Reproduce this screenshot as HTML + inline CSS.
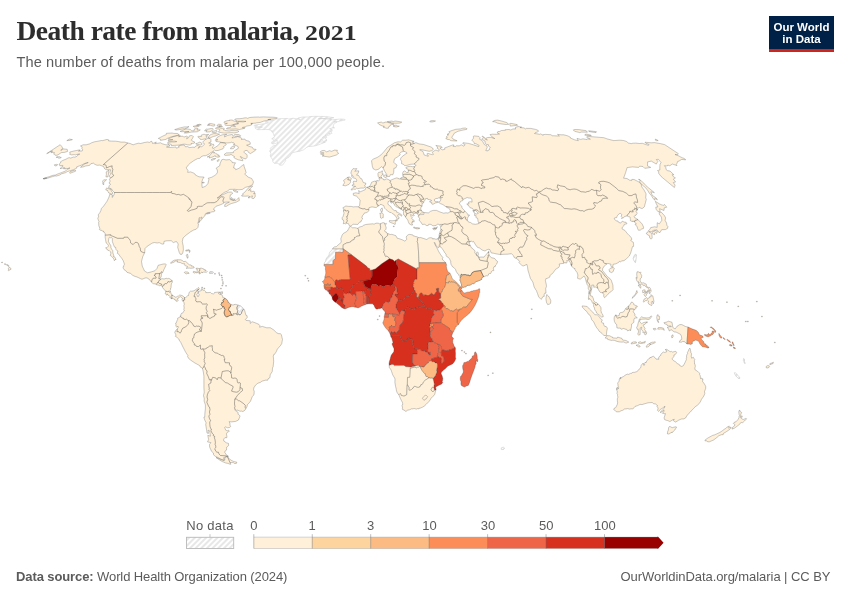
<!DOCTYPE html>
<html lang="en">
<head>
<meta charset="utf-8">
<title>Death rate from malaria, 2021</title>
<style>
html,body{margin:0;padding:0;background:#fff;}
body{width:850px;height:600px;position:relative;overflow:hidden;font-family:"Liberation Sans",Arial,sans-serif;}
#title{position:absolute;left:16.5px;top:13.1px;margin:0;font-family:"Liberation Serif","DejaVu Serif",serif;font-weight:bold;font-size:27.5px;line-height:36px;color:#2d2d2d;white-space:nowrap;letter-spacing:-0.5px;}
#yr{display:inline-block;font-size:20px;letter-spacing:0;transform:scaleX(1.29);margin-left:-0.5px;transform-origin:left bottom;}
#subtitle{position:absolute;left:16.4px;top:52.5px;margin:0;font-size:14.6px;line-height:18px;color:#5b5b5b;white-space:nowrap;letter-spacing:0.13px;}
#logo{position:absolute;left:769px;top:16px;width:65px;height:33px;background:#002147;border-bottom:3px solid #ce261e;color:#fff;font-weight:bold;font-size:11.5px;line-height:12px;text-align:center;}
#logo span{display:block;white-space:nowrap;}
#logo .l1{position:absolute;left:0;width:65px;top:4.8px;}
#logo .l2{position:absolute;left:0;width:65px;top:16.7px;}
#map{position:absolute;left:0;top:0;width:850px;height:600px;}
.lg{position:absolute;font-size:13px;line-height:14px;color:#5b5b5b;white-space:nowrap;top:518.6px;transform:translateX(-50%);}
#src{position:absolute;left:16px;top:569px;font-size:13px;line-height:15px;color:#5b5b5b;white-space:nowrap;letter-spacing:-0.1px;}
#src b{font-weight:bold;}
#lic{position:absolute;right:19.6px;top:569px;letter-spacing:-0.06px;font-size:13px;line-height:15px;color:#5b5b5b;white-space:nowrap;}
</style>
</head>
<body>
<h1 id="title">Death rate from malaria, <span id="yr">2021</span></h1>
<p id="subtitle">The number of deaths from malaria per 100,000 people.</p>
<div id="logo"><span class="l1">Our World</span><span class="l2">in Data</span></div>
<svg id="map" width="850" height="600" viewBox="0 0 850 600">
<defs>
<pattern id="hatch" patternUnits="userSpaceOnUse" width="4" height="4" patternTransform="rotate(45)">
<rect width="4" height="4" fill="#fff"/>
<line x1="2" y1="0" x2="2" y2="4" stroke="#e5e5e5" stroke-width="1.8"/>
</pattern>
</defs>
<g id="legend">
<rect x="186.5" y="537.3" width="47.2" height="11.2" fill="url(#hatch)" stroke="#b9b9b9" stroke-width="0.9"/>
<line x1="210" y1="534.2" x2="210" y2="537.1" stroke="#b9b9b9" stroke-width="0.8"/>
<rect x="253.80" y="537.1" width="58.50" height="11.4" fill="#fef0d9"/>
<rect x="312.25" y="537.1" width="58.50" height="11.4" fill="#fdd49e"/>
<rect x="370.70" y="537.1" width="58.50" height="11.4" fill="#fdbb84"/>
<rect x="429.15" y="537.1" width="58.50" height="11.4" fill="#fc8d59"/>
<rect x="487.60" y="537.1" width="58.50" height="11.4" fill="#ef6548"/>
<rect x="546.05" y="537.1" width="58.50" height="11.4" fill="#d7301f"/>
<path d="M604.50 537.1H657.65V536.3L663.55 542.8L657.65 549.3V548.5H604.50Z" fill="#990000"/>
<path d="M253.80 537.1H657.65M253.80 548.5H657.65" stroke="#8a8a8a" stroke-opacity="0.55" stroke-width="0.6" fill="none"/>
<path d="M253.80 534.2V548.5M312.25 534.2V548.5M370.70 534.2V548.5M429.15 534.2V548.5M487.60 534.2V548.5M546.05 534.2V548.5M604.50 534.2V548.5" stroke="#555" stroke-opacity="0.7" stroke-width="0.55" fill="none"/>
</g>
<defs><pattern id="hatch2" patternUnits="userSpaceOnUse" width="4" height="4" patternTransform="rotate(45)"><rect width="4" height="4" fill="#fff"/><line x1="2" y1="0" x2="2" y2="4" stroke="#e5e5e5" stroke-width="1.8"/></pattern></defs>
<g id="countries" stroke="#2e2e2e" stroke-opacity="0.5" stroke-width="0.5" stroke-linejoin="round">
<g id="land">
<path d="M438.2 238.6L438.7 237.7L439 236.4L439.2 234.4L439.5 233.7L440.1 231.6L440.9 229.7L440.5 227.6L440.9 226.6L440 225.4L440.7 224.4L439.4 224.6L437.5 224L436.2 225.5L432.9 225.8L431 224.4L428.7 224.3L428.3 225.4L426.8 225.7L424.6 224.3L422.2 224.4L420.7 221.8L419 220.3L419.8 218.3L418.3 217.1L418.3 215.7L420.4 214.6L423.7 214.5L424.3 212.5L428.4 212.9L430.7 211.2L433.1 210.4L436.5 210.4L440.5 212.2L443.7 213.2L446.1 212.8L448 213.1L450.2 211.7L450.3 210.6L449.5 208.8L448.1 207.9L446.9 207.6L446 206.8L442.9 204.6L440.3 203.6L438.3 202.1L439.7 201.7L441 199.6L439.7 198.6L442.5 197.5L442.3 197L440.6 197.4L439 197.6L437.8 198.4L435.9 198.5L434.3 199.5L434.7 201.1L435.8 201.7L437.9 201.6L437.6 202.5L435.5 202.9L432.9 204.4L431.7 203.9L431.9 202.7L429.5 201.9L429.8 201.4L431.7 200.6L431 200L427.7 199.3L427.4 198.4L425.5 198.7L425 200.1L423.6 202L423.8 202.7L422.9 203.2L422.2 203L422.1 206.1L421.1 207.2L420.6 209L421.5 210.5L421.8 211.5L423.8 212.3L423.5 213L421 213.1L420.2 213.9L418.6 215.3L417.7 214.1L417.7 213.6L416.4 213.5L415.3 213.2L412.8 213.9L414.4 215.4L413.4 215.8L412.2 215.8L410.9 214.4L410.6 215L411.2 216.6L412.4 217.8L411.6 218.4L412.9 219.6L414.1 220.3L414.2 221.8L412.2 221.1L412.9 222.4L411.6 222.7L412.6 225L411.2 225L409.3 223.9L408.3 221.8L407.8 220.1L406.9 218.9L405.7 217.4L405.5 216.7L405.1 216.5L405 215.9L403.8 215L403.5 213.8L403.5 212L403.7 211.2L403.3 210.8L402.9 210.6L402.2 209.8L401.2 209.3L399.2 208.3L397.9 207.4L395.9 206.6L394 204.7L394.5 204.5L393.4 203.4L393.3 202.6L392 202.2L391.4 203.3L390.7 202.4L390.7 201.5L391.2 201.2L389.6 200.9L388 201.8L388.1 203L387.9 203.8L388.7 205.1L390.7 206.4L391.9 208.5L394.4 210.6L396.1 210.6L396.6 211.2L396 211.7L398 212.6L399.6 213.4L401.5 214.7L401.8 215.2L401.5 216.2L400.2 215L398.3 214.5L397.5 216.2L399.1 217.2L399 218.5L398.1 218.7L397.1 220.9L396.2 221.1L396.2 220.3L396.5 218.9L397 218.4L396 216.9L395.3 215.6L394.4 215.2L393.7 214.1L392.3 213.6L391.3 212.6L389.8 212.4L388 211.3L386 209.6L384.5 208.1L383.7 205.5L382.7 205.2L381 204.4L380 204.7L378.9 205.9L378 206.1L376.2 207.6L372 206.9L369 207.7L368.9 209.3L368.9 210.8L366.9 212.5L364.2 213.1L364 213.9L362.7 215.4L361.9 217.5L362.7 219L361.5 220.1L361 221.8L359.4 222.3L357.9 224.4L353.1 224.3L351.7 225.3L350.8 226.2L349.8 226L349 225.1L348.4 223.6L346.4 223.2L345.5 223.9L344.4 223.5L343.3 223.8L343.7 221.8L343.5 220.2L342.6 219.9L342.1 219L342.3 217.3L343.2 216.3L343.4 215.3L343.9 213.7L343.9 212.6L343.5 211.7L343.5 210.8L343.7 209L342.8 207.8L345.9 206L348.4 206.4L351.2 206.4L353.4 206.9L355.1 206.7L358.5 206.8L359.6 205.3L360.1 200.2L357.9 197.5L356.5 196.2L353.4 195.2L353.2 193.4L355.8 192.8L359.2 193.5L358.6 190.6L360.5 191.7L365.2 189.7L365.8 187.6L367.5 187.1L369.1 186.6L370.1 185.9L371.7 182.2L374.3 181.2L376 181.3L376.3 180.8L378 180.6L378.3 181.2L379.6 179.9L379.1 179L379 177.6L378.1 176.2L377.9 173.7L378.2 173.1L378.7 172.3L380.3 172.2L381 171.5L382.4 170.8L382.5 172.1L381.9 172.9L382.2 173.5L383.3 173.9L382.9 174.8L382.3 174.6L381 176.3L381.6 177.6L381.7 178.5L383.7 179.1L383.8 180L385.7 179.5L386.7 178.8L389 179.8L390 180.6L391.3 179.9L394.2 178.7L396.5 177.9L398.5 178.3L398.7 178.9L400.6 178.9L400.9 177.8L403.4 177L402.8 175L402.6 173.1L403.3 171.6L404.9 170.8L406.7 172.6L408.2 172.5L408.3 170.7L408.2 169.2L406.3 168.7L405.9 167.3L408.1 166.6L410.4 166.3L412.5 166.7L414.4 166.6L416.2 165.3L414 164.1L410.7 164.3L407.7 165.2L404.7 165.7L403.5 164.4L401.5 163.6L401.6 161.3L400.4 159.2L401 157.8L402.4 156.3L405.9 153.8L407 153.3L406.6 152.4L404 151.3L401.1 152L399.7 153.5L400.2 155L397.7 156.8L394.5 158.8L393.7 162.2L395.2 163.8L397.1 165.1L395.8 167.9L393.9 168.4L393.7 172.5L392.8 174.8L390.5 174.6L389.6 176.5L387.4 176.6L386.6 174.3L384.8 171.5L383.1 168.1L381.7 166.6L378.2 169.4L375.7 170L373.1 168.7L372.3 166.2L371.5 160.7L373.1 159.2L377.7 157.2L381.1 154.8L384 151.6L387.6 147.2L390.2 145.6L394.4 142.8L397.9 141.8L400.6 141.9L402.7 140.2L405.7 140.2L408.6 139.8L414.1 141.4L412.2 142L414.4 143.3L415.9 142.6L419 143.9L423.7 144.5L431 147L432.6 148L433.3 149.5L431.8 150.7L429.1 151.3L420.9 149.6L419.7 149.9L423 151.5L423.4 152.6L424.2 155L426.6 155.7L428.2 156.3L428.1 155.1L426.8 154.2L427.6 153.3L432.3 154.7L433.6 154.2L431.9 152.5L435.2 150.2L436.8 150.4L438.7 151.2L439.2 149.6L437.2 148.3L437.6 146.9L435.8 145.5L440.8 146.2L442.3 147.5L440.2 147.8L440.7 149L442.4 149.8L444.8 149.3L444.7 147.9L447.8 146.8L452.8 144.9L454.1 145L453.1 146.4L455.3 146.6L456.2 145.8L459.3 145.8L461.3 144.8L463.9 146.2L465.1 144.7L462.7 143.4L463.1 142.7L468.4 143.4L471.1 144.1L478.7 146.6L479.1 145.4L476.7 144.3L476.4 143.8L474.3 143.6L474.2 142.5L472.3 140.8L471.8 140.2L473.5 138.2L473.3 136.3L474.2 135.9L478.8 136.4L480 137.6L479.7 139.3L481.2 140L482.7 141.5L484.3 144.5L487 145.9L487.2 147.4L485.8 150.6L488 150.9L488.2 150.1L489.7 149.5L489.5 148.4L490.3 147.3L488.5 146.1L488.3 144.6L486.4 144.4L485.2 143.2L485 141L481.6 139.3L483.5 137.8L482 136.3L482.8 136.3L484.5 137.4L485.4 139.5L487.4 139.9L485.6 138.4L487.6 137.5L490.9 137.4L494.8 138.6L492 136.9L490 134.6L492.4 134.2L496.3 134.3L499.5 134L497.2 132.9L497.8 131.6L499.5 131.5L501.5 130.5L505.3 130.3L505.2 129.7L509 129.5L510.8 130L513 128.9L515.8 129L515.2 128.1L515.6 127.3L518.2 126.5L521.6 127.1L520.1 127.6L523.9 127.9L525.6 128.9L526.3 128.4L530.8 128.4L535.5 129.4L537.7 130.1L538.7 131.2L537.7 131.8L535 132.9L534.5 133.5L536.8 133.8L539.7 134.3L540.7 133.9L543.1 135.3L543.1 134.7L545.3 134.4L550.8 134.7L552.3 135.7L559.4 136L557.5 134.4L561.3 134.8L563.8 134.8L567.8 135.9L570.3 137.2L570.5 138.1L574.6 139.8L578.3 140.7L577 138.4L580.8 139.4L582.9 138.8L586.9 139.5L587.3 138.9L590.4 139.2L586.5 137.2L587.4 136.3L603.9 137.7L607.1 138.9L613.7 140.6L619.8 140.2L623.5 140.5L626.3 141.4L628.4 143L631.3 143.6L632.9 143.2L635.8 143.1L639.6 143.5L642.4 143.3L648.2 145.3L649.2 144.6L645.8 143.2L645 142.2L651.2 142.8L654.5 142.6L660.9 143.7L664.8 144.7L678.3 153.6L677.5 154.7L675 154.5L678.3 155.7L682.1 157.7L683.8 158.3L685.3 159.3L685.7 159.9L681.7 159.4L679 161.1L677.7 161.4L677.1 163.1L676.3 164.5L677 165.6L672.3 164L669.8 165.8L667.9 165L667.3 166L664.4 165.7L665.7 167.2L666.2 169.6L667.4 170.6L670.1 171.1L673.8 174.7L672.2 174.7L673.5 176.8L675.4 177.9L673.4 179.1L675.6 182L673.3 182.6L675.1 185.1L674.4 187.5L672.1 185.7L667.8 182.1L661.2 176.6L658.6 173.2L658.7 171.7L657.5 170.6L659.8 170L659.8 167L660 164.5L661 162.6L658.4 159.3L656.4 159.5L657.8 161.4L656.3 164.1L651.3 161.1L647.6 161.9L647.5 165.9L650.7 167.4L647.3 168L644.7 168.3L642.9 166.5L639.6 166.2L638.6 167.4L632.5 166.9L627.1 167.6L625.7 172.4L623.6 178.2L627 178.5L629.3 180L631.6 180.6L631.8 179.4L634.1 179.5L639.3 182.2L641.2 184.4L641.8 186.9L644 189.9L646.1 193.9L645.7 197.6L646.3 199.4L645.5 202.4L644.7 205.4L644.3 206.9L642.4 208.4L641.1 208.4L639.1 207.2L637.4 209.1L637.6 209.9L636.3 210.7L636.1 211.5L637.3 213.4L636.5 214L636.4 214.4L636 215.2L634.8 215.6L634.2 216.3L634.7 217.5L634.6 217.7L635.7 218.2L637.5 219.3L640.8 222.4L642.2 224.1L643.6 227.1L643.4 228.5L641.7 229L640.4 230.1L638.5 230.3L637.7 228.9L637.2 226.9L635 224.2L636.4 223.8L633.9 221.5L632.6 221L632.6 221.5L632.1 221.7L631.8 221.3L631.1 221L630.3 220.6L630.4 219.5L630.7 219.1L630.3 218.7L630.1 217.3L629.8 216.9L628.4 216.6L627 215.9L624.4 216.6L623.5 217.8L621.5 218.5L622.1 217.3L621.1 216.3L621.9 214.6L620.1 213.2L618.7 214.2L617.2 215.9L616.7 217.6L614.7 217.8L614.1 219L616.1 220.7L618 221.1L618.6 222.3L620.7 223.1L622.2 221.2L624.6 222.2L626.1 222.3L627 223.7L624.3 224.4L623.9 225.8L622.3 227.1L622 228.9L624.9 230.4L626.8 232.9L629 235.3L631.2 237.4L631.9 239.3L630.7 240L631.7 241.4L633.3 242.2L633.6 244.3L633.6 246.4L632.5 246.6L631.7 249.5L630.7 252.9L629.3 256L626.7 258.5L624 260.7L621.5 260.9L620.4 262.1L619.4 261.3L618.4 262.6L615.5 263.9L613.1 264.3L612.8 267L611.6 267.2L610.7 265.3L611 264.3L607.9 263.4L606.9 263.9L604.2 266.1L602.7 268.6L602.5 270.4L604.7 273.1L607.3 276.5L609.6 278.2L611.3 280.3L612.9 285.1L613.1 289.7L611.4 291.4L608.9 293.1L607.2 295.3L604.5 297.7L603.5 296L604 294.3L602.2 292.8L600.3 292.4L599.2 291.1L597.8 288.3L595.6 287.1L593.7 287.2L593.8 285.1L591.8 285.1L591.9 288L591 291.8L590.4 294.2L590.7 296L592.2 296.1L593.3 298.5L593.8 300.8L595.2 302.3L596.6 302.6L597.9 303.9L598.4 304.2L599.8 305.8L600.9 307.5L601.1 309.3L600.9 310.4L601.2 311.4L601.4 312.9L602.2 313.6L603.2 315.9L603.2 316.8L601.5 317L599.3 315.1L596.5 313L596.2 311.7L594.8 309.9L594.4 307.7L593.5 306.3L593.7 304.4L593.1 303.3L592.1 302.3L591.7 301L590.4 299.5L589.2 298.3L588.9 299.8L588.4 298.4L588.5 296.8L589 294.2L588.7 292.3L589.2 290.3L588.3 288.8L588.2 285.9L587.1 284.5L586.1 281.4L585.3 278.1L584 275.9L582.7 277.3L580.3 279.1L579 278.9L577.5 278.3L577.9 275L577.1 272.6L574.9 269.6L575 268.6L573.7 268.3L571.7 266.2L570.9 264.8L570.6 263.5L570 262.2L568.8 260.7L566.7 260.6L567.1 261.7L566.6 263.1L565.5 262.6L565.3 263.1L564.6 262.8L563.7 262.5L563.5 263.5L562 263.5L559.2 264L559.6 266L558.6 267.5L555.6 269.3L553.4 272.4L551.9 274L549.8 275.7L550 276.9L548.9 277.6L546.9 278.5L545.9 278.6L545.4 280.6L546.2 284L546.5 286.2L545.7 288.7L546 293.1L544.8 293.2L543.9 295.2L544.6 296.1L542.6 296.9L541.9 298.6L541 299.4L538.7 296.9L537.4 293.3L536.4 290.6L535.5 289.4L534.1 286.9L533.3 283.6L532.8 282L530.4 278.4L528.9 273.3L527.9 270L527.5 266.8L526.8 264.4L523.7 265.9L522.1 265.6L518.8 262.5L519.7 261.5L519 260.5L516.1 258.3L514.3 257.6L513.5 255.7L511.5 253.7L507.4 254.2L503.8 254.3L500.6 254.6L496.3 253.9L493.8 253.3L491.2 252.9L489.9 249.7L488.8 249.3L487.1 249.7L485 251L482.2 250.1L479.7 248.1L477.4 247.3L475.6 244.9L473.5 241.4L472.4 241.8L470.9 240.9L470.2 242L468.8 241.8L469.5 243L469.3 243.6L470.3 245.6L471.4 247.8L472.6 248.4L473.1 249.3L474.7 250.4L475 251.5L474.8 252.4L475.2 253.3L475.9 254L476.3 254.8L476.7 255.5L476.4 253.6L476.8 252.2L477.4 251.9L478.2 252.8L478.4 254.3L478 255.8L478.6 256.8L479 256.7L479.1 257.4L480.8 257L482.7 257.1L484.1 257.1L485.4 255.4L486.9 253.7L488.2 252.1L488.7 251.2L489 251.4L488.9 252.5L488.7 253L489.2 255.1L490.4 256.8L491.8 257.8L493.5 258.1L494.8 258.6L496 260.1L496.7 261L497.5 261.3L497.6 261.9L496.9 263.4L496.6 264.2L495.7 265L495.1 266.8L494 266.7L493.6 267.3L493.4 268.6L493.8 270.4L493.6 270.7L492.5 270.7L491.2 271.7L491.1 272.9L490.6 273.5L489.2 273.5L488.4 274.1L488.4 275.2L487.4 275.9L486.1 275.7L484.7 276.5L483.6 276.7L482 277.4L481.7 278.5L481.7 279.4L479.4 280.5L475.9 281.7L473.9 283.6L472.9 283.7L472.2 283.6L470.9 284.7L469.5 285.2L467.6 285.3L467 285.5L466.6 286.1L465.9 286.3L465.6 287L464.5 286.9L463.8 287.3L462.2 287.2L461.5 285.6L461.5 284.2L461.1 283.4L460.6 281.5L459.9 280.4L460.3 280.3L460 279.1L460.3 278.6L460.1 277.5L459.8 276.4L459 275.6L458.8 274.5L457.5 273.6L456.2 271.4L455.4 269.3L453.8 267.5L452.7 267L451.1 264.5L450.7 262.7L450.7 261.2L449.2 258.3L448.1 257.3L446.8 256.7L446 255.2L446.1 254.6L445.4 253.3L444.7 252.7L443.6 250.7L442.1 248.6L440.8 246.9L439.7 246.9L439.9 245.4L440 244.5L440.1 243.5L440 243.1ZM60.2 144.7L61.7 146.4L62.9 148.6L60.6 150L61 150.5L63 148.9L67.2 149.3L67.6 151.4L64.4 152.4L61.3 152.6L58.1 154.8L56.7 155.3L55.2 155.3L54.9 154.5L53.5 153.8L54.6 152.8L53.3 152.4L50.9 152.7L51.1 151.9L52.7 151.1L49.9 151.6L49.1 152.7L46.7 153.6ZM184.5 297.5L183.7 296.8L183 296L182 295.6L180.8 295.2L179.6 295.1L178.7 295.9L177.3 296.4L176.3 297L175.1 297.2L174.6 296.6L173.5 296.1L172.7 295.2L171.8 295.4L170.9 293L170.4 291.6L170 290.5L170.5 289.8L170.7 288L171.1 287.7L171.1 286.6L171.1 285.9L171.3 284.7L171.4 283.6L172.2 282.8L172 281.8L172.4 281L171.9 280.3L171.1 279.9L169.9 278.8L168.5 278.4L167.4 278.7L166.9 278.5L166.2 278.3L164.1 279L162.4 278.7L161.8 278.7L161 279.1L160.4 278.7L159.5 278.7L161.1 277L161.4 275.7L161.3 275.4L161.5 274.1L162.1 272.2L161.7 271.8L162.7 272.5L164 269.3L165.8 265.7L166.1 264.4L165.6 263.9L163.2 264L158.1 265.3L157.1 268.3L154.8 270.8L151.5 271.8L147.6 272.8L144.5 271L143.9 269.7L142.3 266.2L141.5 261.5L142.7 256.8L144.7 252.6L145 248.6L147.3 246.2L152.3 243.1L154.3 242.5L157.2 243L159.2 242.6L162.1 244.1L163.8 244L164 241.4L166.7 240.8L171.2 240.7L173.3 242.6L176.1 241.5L176.9 241.9L178.2 244.1L177.7 247.3L178.6 250.4L179.3 252.6L180.2 254.3L182 254.3L182.8 252.7L183.4 249.9L183.2 245.8L182.3 241.7L183 238L186 235.2L189.4 232.7L190.7 231.7L193.7 230L196.2 229.2L198 227.3L198.5 223.8L197.8 223.5L198.6 220.9L199.1 217.8L200.2 217.5L198.8 222.9L199.8 221L200.6 220.8L201.5 219.8L201.8 218.9L201.4 218.4L201.4 217L202.3 217.8L202.3 218.4L204.4 216.4L205.5 214.6L204.8 214.5L205.7 213.7L206.9 214L210.1 213.3L209.7 212.8L206.4 213.3L208.4 212.5L210.6 212.3L212.3 211.8L213.3 211.8L214.8 211.1L214.8 210.1L213.6 209.6L214.1 208.3L216.2 206.2L218.7 205.4L221.1 204.5L223.8 203.2L223.7 202.4L226.1 202.1L229.4 202L225.1 204.1L224.5 206.3L226.1 206.5L229 204.6L231.3 203.6L236.4 202.1L239.4 200.4L238.8 197.6L235.9 200.5L233.2 200.3L230.1 199.6L230 197.6L230.3 194.9L231.1 194.6L232.8 193.2L231.3 192L228.3 192.2L223.6 194.3L220.2 195.7L217 198.1L218.9 197.6L221.1 194.7L224.4 192.4L227.3 191.2L229.6 189.4L234.8 189.3L238.9 189.8L242.4 189.4L245.6 187.3L249.2 186.4L252.7 184.6L253.5 181.8L253 180.9L251.6 178.4L247.8 177L246.7 175.6L244.7 174.2L246.1 172.7L245.3 169.8L244.2 166.7L243.8 164.5L242 165.7L239 168.3L235.7 169.7L235 168.2L233.5 167.8L234.4 164.8L235.5 162.8L232.3 162.6L232.2 161.7L229.5 159.6L226 159.9L223.2 159.3L221.7 159.8L220.1 163.5L219.7 165.7L216.1 168.2L217.3 170L217.5 172.1L216.8 173.7L214.9 175.4L211.8 177.2L208.2 178.3L208.9 179.6L207.9 183.6L205.7 186.2L203.7 187L202.2 187.5L201.9 184.6L201.9 181.8L202.6 179.3L204.1 177.1L199 176.8L195.5 175.1L194.9 173.9L193.5 173L190.6 171.9L187.7 172.4L188 170.5L186.2 167.9L188.2 165.1L190.2 163.2L194 160.5L197.6 158.6L199.9 158.3L201.1 156.8L203.2 155.8L205.8 155.7L209 154.1L210.2 153.1L213.2 151.2L214.5 150L215.8 150.7L218.5 150.4L222.9 148.8L223.9 147.7L223.5 146.5L225.6 145.3L226.3 144.2L224.9 143.1L222.6 142.8L220.4 142.6L218.5 145.1L215.8 147L212.9 148.6L212.3 147.1L214.1 145.4L213.2 144L209.6 145.8L211.4 143.5L208.6 143L211 142L210.9 139.5L210.1 138.6L208.2 138.2L204.9 139.8L202.6 142.2L203.8 143.1L204.4 144.4L201.8 146.7L200.5 146.6L198 148.4L199.7 146.3L197.8 145.5L195.9 145.9L194.9 147.3L192.5 147.2L189.6 147.6L187.4 146.6L185.4 146.8L184.8 145.6L183.9 145L182.3 145.2L180.2 145.4L178.4 146.1L179.3 147.1L176.4 148.2L175.8 146.9L174 147.2L169.1 147.5L166.5 147L170 145.9L168.8 144.8L167 144.9L165.1 144.6L162 143.7L160.5 142.8L157.3 143.3L154.8 143.7L156.4 142L152.6 143.5L152 141.6L151.1 141.3L149.5 142.4L147.6 142L144.3 142.5L140.7 143.5L138.5 143.2L135.7 143.9L133.1 144.8L130.2 143.5L127.8 143L124.7 142.1L121.1 142.1L118.1 141.5L115.7 141.2L111.7 141.1L108.6 140.9L108.8 139.9L107 139.4L102.7 140.6L101.5 140.5L96.9 141.4L94.9 141.7L91.7 142.7L89.8 143.8L86.2 144.8L83.1 144.8L80.5 146L81.8 146.7L82.1 147.7L81.8 148.8L82.7 149.6L82.2 151L78.5 151.1L80.2 150L78.8 150L73.4 151.1L69.7 152.1L70.1 153.4L69.6 154.3L71.5 154.9L74.3 154.6L75 155.1L76.2 154.6L78.7 154.1L79.8 154.1L77.4 155L77.8 155.4L76.8 156.4L74.6 157.2L73.5 157L70.6 158.1L69.9 157.7L68.2 157.9L66.1 159.1L62.9 160.4L60.5 161.8L60.7 162.8L59.1 164.1L59.6 164.7L59.8 165.8L62.8 165.4L63 166.2L61.6 167.1L60.1 168.5L61.2 168.5L64.2 167.6L63.5 168.8L65 167.9L64.8 169.1L66.8 168.3L67 168.7L70 167.9L67.4 169.4L65.1 171.2L62.7 172.1L61.8 172.5L57.6 174L55.5 175L52.9 175.3L49.4 176.6L46.7 177.4L43.3 178.6L43.2 179L47.3 178.3L49.7 177.5L52.6 176.6L55.1 175.9L56.2 176.1L59.6 175.1L61.4 173.9L65.7 172.6L67.3 171.6L70 170.8L73.2 169.8L76.8 168.1L76.7 166.9L81.3 165.2L84.3 163.6L88.1 162.3L88 162.9L85.2 163.6L81.8 166L80.5 167.4L83.1 166.9L85.6 166L88.3 165.6L89.5 165.4L90.9 163.7L93.5 163.2L94.6 164.2L97 165.3L99.8 165.1L102.1 166L103.4 166.4L104.8 169L106.3 169.7L109.2 169.7L110.9 169.9L109.8 172.2L110.5 174.1L109.1 176.3L110.1 177.1L110.4 178L109.4 179.3L110.2 181.1L109 183.1L110.6 184.1L109.2 185.7L108.6 187.9L111.5 188.9L112.1 190.1L114.4 192.5L114.7 192.5L114 194.6L113 196.7L112.1 197.4L112.5 195L110.1 194.1L109.6 194.6L109.4 195.8L108.6 198L106.9 201.4L105.3 203.7L103.6 206.1L101.4 208.5L100.9 210.5L99.8 212.7L98.2 214.9L98.6 216.3L97.8 218.4L98.5 220.6L99 221.5L98.6 222.1L98.8 225.7L99.8 228.3L99.5 229.7L99.9 230.1L101.8 230.4L102.3 231.1L103.5 231.2L103.4 232L104.4 232.3L105.2 233.8L105.1 235.1L105.2 237.5L105.5 239.6L105.8 241.3L106.1 242.9L107.2 243.7L108.4 245.5L107.9 246.7L106.9 247.7L105.7 247.7L106.7 249.3L107.9 249.9L108.3 250.6L108.7 250.2L109.9 251.4L110.8 252.2L110.8 253.6L110.3 255.5L111.3 256.2L112.7 257.5L113.9 259L114.2 260.5L114.6 260.5L115.8 259.1L115.8 259.6L115.9 259.1L114.6 256.8L113.5 256.7L113.7 255.3L113.3 254.1L112.9 252.9L112.7 250.5L111.7 249.2L110.9 247.6L110.9 245.9L110.5 245L109.5 243.6L108.4 241.4L108.9 238.1L109.6 237.1L110.6 237.8L111.4 237.7L112.6 238.7L112.3 239.7L112.4 241.7L113.1 243.7L113.9 245.8L114.6 247.2L115.7 247.4L115.8 249.2L116.8 250.5L117.9 251.1L117.3 253.3L119 254.4L119.8 256L121.6 258.1L123.2 260.7L123.7 262L124.4 264.2L124.2 265.1L123.6 265.8L123.7 266.5L123 266.8L123.2 268.1L124.1 269.7L126.3 271.2L127.1 272.4L130.5 273.4L132.7 275.3L135.1 276.5L136.8 276.9L140.4 278.6L142 279.3L145.1 278L147 277.9L149.3 279.4L151.5 282.2L152.7 283.3L153.7 283.8L155.1 283.8L156.2 284.3L156.8 284.9L158.1 285L159.8 285.8L161.4 285.2L162.1 285.4L162.4 286.3L161.9 286.1L162.6 287.6L164 289.3L165.7 291.2L165.7 292.1L165.3 293.7L165.6 294.2L166.8 295.2L167.2 293.8L167.9 295.1L169.5 295.9L170.1 296.5L170.2 297.1L169.9 297.6L170.3 298.1L171.2 297.7L171.5 298.7L171.8 299.1L171.9 298.5L172.9 298.5L173.5 298.8L174.4 299L174.8 300L175.6 300.2L175.9 299.8L176.2 301.3L177.3 301.2L178.3 300.5L177.3 299.1L177.5 298.5L178 298.4L179 297.8L179.5 296.9L180.5 296.7L181.6 297.4L182 298.3L182.6 298.5L182 299.2L182.4 300.6L183.1 301.3L183.5 300L184.2 300.2L184.7 299.4L184.2 297.9ZM184.5 297.5L185.7 297.6L187.5 295.8L188.5 295.5L188.6 294.7L189.1 292.4L190.5 291.2L191.9 291.2L194 290.8L195.8 289.5L196.8 288.9L198 287.7L198.8 287.8L199.3 288.5L198.8 289.4L198.7 290L197.3 290.3L198 291.5L197.9 292.9L196.8 294.4L197.6 296.5L198.6 296.3L199.2 294.4L198.5 293.5L198.5 291.5L201.4 290.5L201.2 289.2L202.1 288.4L202.8 290.2L204.4 290.3L205.8 291.7L205.8 292.6L207.9 292.6L210.4 292.4L211.6 293.5L213.4 293.9L214.7 293L214.7 292.4L217.6 292.2L220.4 292.2L218.4 293L219.1 294.2L220.9 294.4L222.6 295.7L222.9 297.8L224.1 297.7L225 298.3L226.5 299.3L227.8 301L227.9 302.3L228.7 302.4L229.9 303.7L230.8 304.6L233.5 305.1L233.8 304.6L235.7 304.4L238.1 305.1L238.9 305.4L240.6 306.1L243 308.3L243.3 309.3L244.1 309.2L244.7 310.7L245.9 315.2L247.1 315.7L247.2 317.5L245.4 319.6L246.1 320.4L250.2 320.8L250.3 323.4L252.1 321.7L255 322.7L258.8 324.3L260 325.8L259.6 327.2L262.3 326.4L266.8 327.8L270.2 327.7L273.7 329.9L276.7 332.8L278.5 333.6L280.4 333.7L281.3 334.5L282.1 337.8L282.5 339.4L281.7 343.7L280.6 345.4L277.4 349.1L276.1 352L274.5 354.3L273.9 354.3L273.3 356.2L273.7 361.2L273.3 365.2L273.1 366.9L272.5 367.9L272.3 371.4L270.2 374.8L270 377.6L268.2 378.7L267.8 380.2L265.3 380.2L261.9 381.2L260.4 382.4L257.9 383.2L255.4 385.3L253.8 387.9L253.6 389.8L254.2 391.2L254.1 393.9L253.7 395.1L252.3 396.6L250.5 401.2L248.8 403.3L247.5 404.5L246.9 407L245.8 408.5L245.1 410.1L242.9 411.6L241.2 411L240.1 411.3L237.8 410.2L236.4 410.3L234.8 408.8L234.9 410.2L238.1 412.4L238.1 414.2L239.7 415.4L239.9 416.6L238.5 420L235.7 421.4L231.5 421.9L229.1 421.7L229.9 423.2L230 425.2L230.7 426.5L229.7 427.4L227.6 427.8L225.3 426.8L224.7 427.5L225.7 430.1L227.4 430.8L228.3 430L229.3 431.3L227.6 432.1L226.4 433.8L226.9 436.4L226.8 437.7L224.9 437.7L223.7 439.1L223.8 441L226.4 442.8L228.5 443.4L228.6 445.6L226.7 447.1L226.5 450.1L225 451.1L224.7 452.2L226.3 454.8L228.3 456.3L226.1 456.7L223.5 457.7L224.3 460L223.5 460.1L220.9 459.2L217.9 457.5L214.8 456.1L213.5 454.5L213.4 453L211.6 451.4L209.6 447L209.5 444.6L210.9 442.6L207.5 441.9L208.6 439.6L207.8 435.3L210.4 436.2L209.7 430.9L208.1 430.2L208.5 433.4L207 433.1L206.5 429.4L205.7 424.6L206.1 422.8L204.8 420.2L203.8 417.3L204.7 417.2L204.9 413L205.4 408.8L205.4 404.9L204.1 401L204.3 398.9L203.5 395.6L204.2 392.5L203.9 387.4L203.9 382L203.9 376.1L203.3 371.9L202.4 368.2L200 366.7L199.7 365.6L194.9 363L190.6 360.1L188.7 358.5L187.5 356.3L187.9 355.6L185.6 352.1L183.1 347.3L180.6 342.1L179.6 340.9L178.8 339L176.9 337.3L175.3 336.3L176 335.1L174.8 332.6L175.4 330.8L177.2 329.1L178.4 327.2L177.8 326L177 327.2L175.6 326.1L176.1 325.3L175.6 323L176.4 322.6L176.9 320.9L177.7 319.3L177.6 318.2L178.8 317.6L180.4 316.6L180.1 315.8L181 315.6L180.9 314.3L181.5 313.3L182.6 313.1L183.6 311.5L184.5 310.1L183.7 309.5L184.2 308L183.8 305.6L184.3 304.9L184 302.7L183.1 301.3L183.5 300L184.2 300.2L184.7 299.4L184.2 297.9ZM356.9 168.6L354.8 171.3L356.7 170.9L358.8 170.9L358.3 172.9L356.5 175.1L358.5 175.3L360.4 178.4L361.7 178.8L362.9 181.7L363.4 182.6L365.8 183.1L365.6 184.7L364.6 185.4L365.4 186.8L363.6 188.1L360.9 188.1L357.5 188.7L356.6 188.2L355.3 189.4L353.4 189.1L352 190.1L350.9 189.6L353.9 187L355.7 186.4L352.6 186L352.1 185L354.2 184.2L353.1 182.9L353.6 181.2L356.5 181.5L356.8 180L355.5 178.4L353.2 178L352.7 177.4L353.4 176.2L352.8 175.6L351.7 176.7L351.7 174.4L350.8 173.1L351.6 170.6L353.1 168.6L354.6 168.8ZM350.4 180.3L350.7 182.1L349.1 184.3L345.6 185.8L342.8 185.4L344.5 182.8L343.6 180.3L346.4 178.3L347.9 177.2L349.5 177.1L351.5 178.6ZM337.4 150.3L336.9 151.7L338.7 153.3L336.2 155.1L330.9 156.7L329.3 157.1L327 156.7L322.1 156L324.1 155L320.4 153.9L323.6 153.4L323.7 152.7L320.1 152.2L321.6 150.7L324.3 150.4L326.7 151.9L329.5 150.7L331.6 151.3L334.6 150.1ZM384.3 122.8L384.8 122.1L386.9 122.1L388.8 122.7L394 124.1L390.5 124.9L390 126.2L388.8 126.6L388.4 128.2L386.6 128.3L383.1 127.1L384.4 126.4L382 125.9L378.9 124.3L377.6 122.8L381.4 122.1L382.3 122.8ZM399.3 126.2L396.2 127L393.4 126.5L394.3 126L393.3 125.4L396.2 125.1L397 125.8ZM401.8 122.1L400 123.1L395.9 123.3L391.5 123L391.1 122.5L389 122.4L387.3 121.6L391.6 121.1L393.7 121.5L395 121L398.8 121.5ZM445.8 138.1L447.2 137.6L446.5 136.5L448.7 134.7L447.1 134.4L449.8 132.6L448.9 131.7L451.7 130.6L455.8 129.3L460.6 128.9L462.7 128.2L465.4 128L467.1 128.8L466.6 129.4L461.9 130.3L457.9 131.3L454.3 133.2L453.1 135.3L451.8 137.3L453.1 139.1L457.1 140.8L456.3 141L450.8 140.7L449.8 139.8L446.6 139.2ZM508.7 124.3L505.8 124.5L501 123.9L497.7 123.2L495 121.9L492.6 121.6L494.8 120.4L497.4 120.1L501.2 120.9L506.8 122.6ZM511.9 123.5L517.1 124.6L517.7 125.3L510.3 126.1L509.7 123.6L510.6 123.4ZM574.7 129.5L578.9 129.6L586.2 130.7L587.4 132.2L581.5 132.1L579.7 132.6L574.6 131.3L573.3 129.9ZM591.7 131.1L596.5 131.7L596 132.5L593.2 132.3L589.1 131.5L588.4 130.8ZM584.8 135.2L585.1 134.4L586.8 134.2L590.3 135L591.3 135.5L588.9 135.5L585.3 135.3ZM658.2 140.6L656.5 140.7L655.1 140L655.6 139.1ZM69.4 139.1L72.4 139.6L71.8 139.9L69.2 140.5L66.8 140.6ZM429.7 121.8L432 122L433.9 121.6L435.5 121L433.2 120.6L430.5 120.8ZM641 180.7L643.8 183.1L645.9 185.6L648.8 188.1L654.4 192.6L650.8 191.8L652.3 195.4L656.2 198L657.4 199.8L654.8 198.3L654.8 200.3L652.9 198.1L651.4 195.6L649.1 192.9L648.1 191L645.5 187.6L642.3 185.1L639.5 181.7L640.3 180.6L638.5 179.4L639 179.1ZM666.6 223.1L666.8 225.2L667.9 226.5L667.6 228.3L665.4 229.6L661.7 229.7L659.9 232.7L658 231.7L657 229.8L653.5 230.3L651.5 231.6L648.9 231.6L651.9 233.5L652.2 238L651.2 239.1L649.8 238.1L649.4 235.7L647.7 235L646.1 233.2L647.8 232.4L648.3 230.7L649.9 229.4L650.7 227.6L654.6 226.8L657.2 227.3L657.2 222.7L659.3 223.9L661.1 221.3L661.8 220.3L661.4 217.1L659.3 214.2L659.2 212.6L661.2 212.1L664.5 215.7L665.6 217.8L665.1 220.4ZM654.7 230.4L656.6 230.9L657.3 231.8L656.7 233.4L655.4 232.6L654.6 233.2L654.6 234.7L652.9 234L652.4 232.7L652.9 231.2L654.3 231.5ZM661.8 204.9L663.6 205.4L664.4 204.4L666.8 207.2L664.2 207.9L664 210.5L659.6 208.7L660.2 211.6L657.9 211.6L656 209.1L655.8 207.1L657.9 206.9L656.1 203.4L655.3 201.3L659.6 204ZM613.3 271.4L611.6 272.6L609.6 271.8L609.1 269.6L610.1 268.4L612.4 267.7L613.7 267.7L614.4 268.7L613.6 269.9ZM550.8 300.5L550.6 303.3L549.7 304L547.7 304.6L546.5 302.5L545.9 298.8L546.7 294.5L548.4 296L549.6 297.8ZM638.4 271.8L639.9 272.6L640.5 271.9L640.8 272.6L640.6 273.6L641.7 275.5L641.5 277.7L640.3 278.6L640.2 280.7L641 282.7L642.3 283L643.2 282.7L646.3 284.2L646.3 285.6L647.1 286.2L647 287.4L645 286.1L644 284.8L643.5 285.7L641.9 284.2L639.9 284.5L638.7 284L638.6 282.9L639.2 282.2L638.5 281.6L638.3 282.6L637 281.1L636.5 279.9L636 277.4L637.1 278.3L636.7 274.2L637 271.8ZM653.3 298.2L653.7 299.9L653.9 301.4L653.3 303.8L652.3 301.1L651.3 302.5L652.1 304.4L651.6 305.6L648.8 304.1L648 302.2L648.6 301L647.1 299.7L646.4 300.8L645.3 300.7L643.7 302.2L643.3 301.4L644 299.2L645.4 298.5L646.6 297.5L647.5 298.7L649.2 298L649.5 296.8L651.1 296.7L650.8 294.7L652.8 295.9L653.1 297.2ZM636.8 290.5L637.5 292.6L636.1 294.1L635 295.8L632.1 298.3L633.1 296.5L634.7 294.9L635.9 293.1ZM650.4 288.4L651.3 291.3L649.5 290.6L649.6 291.5L650.4 293.1L649.3 293.7L649 291.9L648.3 291.7L647.8 290.1L649.2 290.3L649 289.4L647.4 287.4L649.6 287.4ZM647.4 293.3L646.6 294.2L646.1 295.8L645.4 296.6L643.9 294.8L644.3 294.1L644.8 293.4L644.9 291.8L646.1 291.6L645.9 293.4L647.4 290.8ZM642.8 292.9L642.6 291.7L642.6 290.3L643.6 289.9L645.1 289.9L645.1 291L644.2 292.1ZM641 286L640.6 288.3L639.5 287L638.1 285L640.1 285.1ZM634.4 309.4L633.2 311.8L635 314.2L634.6 315.4L637.3 317.8L634.5 318.2L633.8 319.9L633.9 322.3L631.6 324.1L631.5 326.7L630.5 330.7L630.2 329.8L627.5 330.9L626.6 329.3L625 329.2L623.9 328.4L621.1 329.3L620.3 328L618.8 328.2L616.9 327.9L616.6 324.4L615.5 323.6L614.4 321.4L614.1 319.1L614.3 316.7L615.7 314.9L617.4 315.9L619.2 315.4L619.6 313.1L620.5 312.6L623.3 312.1L624.8 310L625.9 308.4L626.8 307.4L628.7 306L630.3 304.1L631.4 302.1L632.3 302.1L633.6 303.4L633.7 304.5L635.3 305.3L637.3 306.1L637.1 307.1L635.6 307.2L636.1 308.5ZM582.2 305.9L583.7 306L587.2 306.5L589.4 309L591.3 310.8L592.6 311.9L594.8 314.7L597.2 314.8L599.2 316.5L600.5 318.7L602.3 319.9L601.3 322.1L602.7 323L603.5 323L603.8 324.9L604.6 326.3L606.3 326.6L607.4 328.2L606.7 331.5L606.4 335.5L603.8 335.5L602 333.4L599.1 331.2L598.2 329.6L596.5 327.5L595.4 325.6L593.7 321.9L591.7 319.7L591 317.5L590.1 315.4L588 313.8L586.8 311.5L585 310.1L582.4 307.2ZM605.2 338.1L606.9 335.6L609.7 335.8L611.5 336.8L612.5 337L612.7 337.9L617.1 338.2L617.7 337.1L621.9 338.4L622.6 340L626.1 340.5L628.8 342.1L626.1 343.1L623.6 342L621.5 342.1L619.2 341.9L617 341.4L614.4 340.4L612.8 340.2L611.8 340.5L607.6 339.4L607.3 338.3ZM651.7 316.5L649.8 319.1L648.1 319.6L645.9 319.1L642 319.2L640 319.6L639.7 321.6L641.7 323.9L643 322.7L647.3 321.8L647.1 323L646.1 322.6L645.1 324.2L643 325.2L645.1 328.5L644.6 329.4L646.6 332.4L646.4 334.2L645.2 334.9L644.3 334L645.6 331.9L643.2 332.9L642.7 332.1L643.1 331.2L641.5 329.6L641.7 327.1L640.2 327.9L640.2 330.9L640.1 334.7L638.6 335L637.7 334.3L638.5 331.9L638.2 329.3L637.3 329.3L636.6 327.5L637.6 325.8L638 323.7L639.2 319.8L639.7 318.7L641.6 316.8L643.4 317.6L646.3 317.9L649 317.8L651.3 315.9ZM650 343.4L650.3 342.8L652.3 342.2L653.9 342.2L654.7 341.8L655.5 342.2L654.6 342.9L652.1 344L650.2 344.7L648.5 346.7L646.5 347.3L646.2 347L646.5 346.1L647.6 344.5ZM633.9 341.4L634.7 342.1L636.1 341.8L636.6 343L633.9 343.5L632.3 343.8L631 343.8L631.9 342.3L633.2 342.3ZM645.4 341.3L645 342.8L641.4 343.5L638.4 343.2L638.5 342.3L640.3 341.7L641.7 342.5L643.3 342.3ZM636 345.2L638.2 344.7L639.4 345.5L640.1 346.3L639.9 347L638.9 347ZM657.8 314.5L658 315.9L659.4 316.2L659.6 317.2L659.5 319.5L658.3 319.3L658 320.9L658.9 322.2L658.3 322.6L657.4 320.9L656.7 317.6L657.1 315.5ZM663.6 328.3L664.3 330.3L662.5 329.2L660.6 329L659.2 329.2L657.6 329.1L658.3 327.6L661.1 327.5ZM656.1 329.2L655.2 330.1L653.6 329.6L653.3 328.5L655.6 328.4ZM672.2 323.2L672.8 327.4L675.1 329L677.1 326.2L679.8 324.6L681.9 324.6L683.8 325.6L685.5 326.5L688 327L687.5 335.5L686.9 344L685 341.9L682.7 341.4L682.1 342.1L679.2 342.2L680.3 340.1L681.8 339.3L681.5 336.5L680.5 334.3L676.1 332.1L674.2 331.9L670.9 329.5L670.2 330.7L669.3 330.9L668.8 330L668.8 328.9L667.1 327.6L669.7 326.6L671.3 326.7L671.1 326L667.7 326L666.9 324.4L664.8 323.9L663.9 322.7L667 322L668.2 321.2L671.9 322.2ZM768.9 365.5L769.5 366.3L768.8 367.6L767.2 368L766.1 367.7L766.2 366.5L767.2 365.6L768.2 365.9ZM771.5 364.1L769.9 364.7L769.8 363.7L771.1 363.1L771.8 363L773.4 362.2L773.1 363.5ZM738.8 424.9L737 426.3L734.6 428.1L732.1 429.1L732.3 428.4L731.7 428L734.5 425.9L734.9 424.5L733.3 423.4L734 422.5L736.2 421.6L737.9 419.6L738.9 417.9L739.2 416.2L739.5 415.7L739.1 414.6L738.8 412.3L739 410.5L739.9 410.3L740.3 411.7L741.6 412.4L740.7 414.7L740.6 417.5L741.8 415.7L742.3 416.4L741.3 418.4L742.5 419.2L743.8 419.4L745.7 418.4L746.6 418.7L744.5 421L742.8 422.6L741.2 422.5L740.1 423.3L739.5 424.4ZM716.7 433.9L719.5 432.6L721.8 431.2L724.2 429.3L725.6 428.6L726.9 427.2L729.3 426L729 427.1L728.6 428.2L730.9 427.1L730.7 428.2L729.9 429.3L728.2 430.5L725.3 432.4L723.4 433.4L723.2 434.7L721.5 434.7L718.9 435.7L717 437.4L713.6 440L711 441.1L709.4 441.8L707.6 441.8L706.9 440.9L704.9 440.8L705.3 439.8L708 437.9L712.6 435.4L714.4 434.9ZM691.2 356.2L691.7 358.2L693.3 357.2L693.9 358.3L694.8 359.4L694.4 360.5L694.5 362.8L694.6 364.1L695.1 364.4L695.3 366.6L694.8 368L695.1 369.8L697.3 371.1L698.6 372.4L699.9 373.5L699.4 374.1L700.3 375.8L700.5 378.6L701.6 378L702.2 379.2L702.9 378.8L702.6 381.5L703.8 383.1L704.5 384.1L705.7 386.3L705.7 388.3L705.2 389.8L704.5 391.5L704.8 393.7L703.8 396L703 397.2L701.4 399.5L700.8 401L699.6 402.9L697.5 405.3L695.3 406.6L693.5 408.6L692.1 409.9L690.3 412.1L688.8 413.4L687.2 415.4L686 417.2L685.6 418L683.9 418.9L681.4 419L678.8 420.1L677.3 421.1L675.3 422.2L674.2 421L673.2 420.6L674.3 419.3L672.8 419.7L669.9 421.6L668.4 420.9L667.4 420.5L666.3 420.3L664.6 419.6L664.1 417.9L664.7 416L665.4 413.6L664.3 413.6L662.4 413.3L663.7 412L664.1 410.1L662.2 411.9L660 412.4L661.8 410.9L662.9 409.4L664.3 408.1L665 406.2L662.2 408.4L660.4 409.3L658.7 411.4L657.4 410.3L658.1 408.9L657.6 407L656.8 406.1L657.5 405.5L655.3 403.9L653.8 403.8L652.2 402.5L648.1 402.8L644.9 403.7L642.1 404.6L640.1 404.4L637.2 405.8L635.1 406.4L634.1 407.7L632.9 408.8L631 408.8L629.5 409.1L627.8 408.6L626.1 408.9L624.5 409L622.7 410.4L622.1 410.3L620.7 411L619.3 411.8L617.8 411.8L616.3 411.8L614.7 410.1L613.7 409.6L614.3 408.1L615.5 407.7L616.1 407.1L616.4 406.2L617.3 404.4L617.6 402.8L617.3 400.2L617.4 398.7L617.9 397.2L617.5 395.5L617.7 394.8L617 393.7L617.3 391.6L616.5 389.6L616.5 388.5L617.2 389.6L617 387.2L617.9 387.9L618.3 388.9L618.6 387.6L618 385.6L618 384.7L617.6 383.9L618.1 382.4L618.7 381.8L619.2 380.5L619.3 379L620.6 377.1L620.4 379.1L621.7 377.3L623.7 376.4L625 375.3L626.9 374.3L627.9 374.1L628.5 374.4L630.5 373.4L631.9 373.2L632.3 372.6L633 372.3L634.2 372.4L636.8 371.6L638.2 370.5L639.1 369.1L640.6 367.8L640.9 366.7L641.2 365.3L643.1 363.1L643.7 365.3L644.8 364.8L644.2 363.6L645.1 362.3L646 362.9L646.6 360.9L648.1 359.6L648.8 358.6L650 358.1L650.1 357.4L651.1 357.7L651.2 357.1L652.2 356.7L653.4 356.3L654.9 357.5L656 359.1L657.4 359.1L658.8 359.3L658.5 357.9L659.9 355.8L661.1 355.1L660.8 354.5L662 353L663.5 352L664.6 352.4L666.6 351.9L666.7 350.5L665.1 349.7L666.4 349.3L667.8 349.9L668.9 351L670.8 351.7L671.5 351.4L672.8 352.2L674.2 351.5L675.1 351.7L675.7 351.2L676.6 352.5L675.8 353.9L674.8 354.9L673.9 355L674.1 356.1L673.2 357.4L672.2 358.7L672.3 359.4L673.8 360.8L675.5 361.7L676.5 362.6L677.8 364.1L678.5 364.1L679.6 364.8L679.8 365.6L681.8 366.5L683.4 365.6L684.1 364.2L684.8 363L685.4 361.6L686.4 359.5L686.3 358.3L686.6 357.5L686.5 356L687.1 354L687.6 353.5L687.4 352.6L688.1 351.3L688.8 349.8L688.9 349.1L689.9 348.1L690.4 349.4L690.3 351L690.9 351.3L690.8 352.4L691.5 353.7L691.4 355.2ZM670.7 426.8L672.1 427.7L673.5 427.3L675.5 426.8L676.6 427L674.8 430.1L673.5 431L671.9 433L671.6 432.3L668.9 434.1L668.6 434L667.4 433.9L667.6 431.7L668.4 430L668.6 427.7L669.4 426.5ZM395.8 220.3L395.2 222.3L395.5 223.2L395.1 224.5L393.5 223.5L392.3 223.2L389.3 221.9L389.5 220.5L392 220.8L394.2 220.5ZM382 212.5L383.3 214.4L383.2 217.8L382.2 217.7L381.3 218.5L380.5 217.8L380.3 214.7L379.8 213.2L380.9 213.3ZM382.6 210.1L382 212.1L381 211.6L380.5 209.8L380.9 208.9L382.2 207.9ZM413.9 226.9L415.2 227.7L416.9 227.6L418.5 227.8L418.5 228.2L419.7 227.9L419.4 228.7L416.3 228.9L416.3 228.5L413.6 228ZM433.7 228.3L433.9 228.3L434.1 227.7L435.7 227.7L437.6 227L436.2 228.1L436.4 228.6L436.5 228.8L434.4 229.8L433.3 229.5L432.7 228.4ZM386.8 176L385.8 178L383.7 176.6L383.4 175.6L386.1 174.8ZM671.8 335.4L673 334.8L673.1 336.9L671.9 338L671.5 336.4ZM227.6 457L228.9 458.2L230.6 460L233.8 461.5L236.8 462.2L236.4 463.4L234.6 463.5L233.3 462.6L232.1 462.6L230 462.6L230.8 464.3L229.6 464.1L227.8 463.4L225.7 463L222.6 461.7L220 460.3L216 457.5L217.9 458.1L221.4 459.7L224.3 460.6L224.8 459.5L224.7 457.8L226.1 456.7ZM220.8 292.1L222.2 291.7L222.6 291.8L222.4 293.8L220.5 294.1L220.1 293.8L220.8 293.1ZM177 259.6L178.9 259.8L180.7 259.8L182.7 260.7L183.5 261.6L185.6 261.4L186.3 262L188 263.6L189.3 264.8L190.1 264.7L191.3 265.3L191.1 266L192.8 266.1L194.3 267.2L194 267.8L192.5 268.1L190.9 268.3L189.4 268.1L186.1 268.3L187.8 266.8L187 266.2L185.5 266L184.8 265.2L184.5 263.7L183.2 263.8L181.2 263.1L180.5 262.6L177.7 262.2L176.9 261.7L177.9 261L175.7 260.9L173.9 262.2L172.9 262.3L172.5 262.9L171.4 263.2L170.4 263L171.7 262.2L172.4 261.2L173.4 260.6L174.7 260.1L176.4 259.9ZM199.8 268.7L200.1 268.2L201.9 268.2L203.2 268.9L203.8 268.8L204.1 269.8L205.3 269.7L205.2 270.5L206.2 270.6L207.2 271.6L206.2 272.6L205.2 272L204.2 272.2L203.4 272L203 272.5L202.1 272.7L201.8 272L201 272.4L199.9 274.2L199.4 273.8L199.3 273L197.9 272.6L196.8 272.8L195.4 272.6L194.3 273.1L193.1 272.3L193.4 271.4L195.5 271.8L197.2 272L198.1 271.4L197.1 270.3L197.3 269.3L195.9 268.9L196.5 268.1L197.9 268.3ZM186.1 271.9L187.6 272.1L188.7 272.7L189.1 273.4L187.5 273.5L186.7 273.9L185.5 273.5L184.3 272.5L184.6 272L185.6 271.8ZM211.8 271.8L212.9 272L213.3 272.5L212.6 273.2L210.9 273.2L209.6 273.3L209.6 272.2L209.9 271.8ZM187.9 258.1L187.3 258.2L186.9 256.7L186.2 255.9L186.9 254.3L187.6 254.4L188.1 256.6ZM188.3 250.7L185.8 251.1L185.8 250.2L186.9 250L188.4 250ZM190.2 250.7L189.5 252.5L189.1 252.2L189.4 250.8L188.5 249.8L188.6 249.5ZM250.6 188.3L248.5 190.5L250.1 189.6L251.3 190.2L250.3 191L251.9 191.8L253 191.1L254.8 191.9L253.6 193.8L255.2 193.3L255.1 194.7L255.3 196.3L253.8 198.5L252.8 198.6L251.6 198.1L252.6 196L252.2 195.7L249.2 197.9L248 197.8L249.8 196.6L248 196L245.7 196.2L241.8 196.1L241.7 195.3L243.3 194.4L242.6 193.8L244.8 192.2L248.1 188.2L249.8 186.8L251.9 185.9L252.7 186L252.1 186.7ZM112.5 193.8L111.2 194.1L108.7 193L108.7 192.1L107.5 191.2L107.6 190.5L105.8 190L106.1 188.6L106.7 188.1L108.4 188.6L109.3 189L111 189.2L111.1 190.1L111.3 191.3L112.6 192.4ZM104.6 179.9L106.6 179.7L103.7 182.5L103.8 184.5L103 184.5L102.7 183.4L102.9 182.2L102.6 181.5L103.2 180.4L103.9 179.6ZM233.1 190.3L233.9 190.1L236.3 190.7L238 191.8L237.9 192.3L236.9 192.3L234.5 191.5ZM231.7 197.5L232 198.8L233.4 199.1L235.3 199.1L234 200.1L233.2 200.3L230.9 199.2L230.7 198.3ZM72.8 172.3L69.9 173.3L69.6 172.6L70.5 171.5L73.2 170.6L74.6 170.2L75.6 170.4L75.6 171.2ZM57.4 156.4L57.9 156.9L59.3 156.6L60 157.2L61.3 157.5L60.8 157.8L58.8 158.3L58.1 157.8L58 157.4L56.3 157.5L56.1 157.3ZM56.9 165.6L55.3 165.9L54.6 165.5L54.3 164.8L56.6 164.4L57.8 164.6ZM43.3 178.5L45.6 177.8L46.8 178.1L44.5 178.9ZM108.5 172.6L108.5 174.3L107.8 177L105.9 176.8L106.4 174.3L106.2 171.9L108.9 170.2ZM9.2 270.3L8.7 270.7L8.2 270.4L8.5 269.6L8.3 268.7L8.5 268.4L9 268L9 267.5L9.2 267.2L10.5 267.9L10.7 268.3L11.1 269.2ZM8.9 266.2L8.1 266.4L7.8 265.9L7.6 265.7L7.7 265.5L7.9 265.3L8.7 265.5L9.2 265.9ZM5.8 264.5L5.6 264.6L4.7 264.5L4.6 263.9L4.5 263.8L5.2 263.4L5.3 263.6ZM2.4 262.7L2.1 263L1.4 262.5L1.6 262.3L2 262.1L2.5 262.1ZM7.7 264.8L7.6 265.1L6.4 265L6.6 264.7ZM224.5 135.6L224.6 137L227.6 135.3L232.3 134.4L233.3 136.6L231.9 138L235.6 137.3L237.8 136.5L240.5 137.6L242 138.6L241.5 139.5L244.9 139L245.7 140.4L249.1 141.2L250 142.1L250.3 144.2L246.6 145.2L249.8 146.6L252.2 147.1L253.5 149.2L256.1 149.4L254.8 150.9L250.4 153.6L248.7 152.6L247.2 150.4L244.8 150.7L243.8 152L244.9 153.3L246.8 154.4L247.2 155L247.1 157.3L245.7 159L243.7 158.4L240.3 156.5L241.7 158.5L242.9 159.9L242.7 160.8L238.3 159.8L235.2 158.5L233.7 157.3L234.6 156.7L232.7 155.5L230.8 154.3L230.4 155L225.1 155.4L224.1 154.6L226.3 152.9L229.6 152.8L233.4 152.6L233.3 151.7L234.6 150.6L238.2 148.4L238.3 147.4L238.1 146.6L236.2 145.6L233.3 144.8L234.8 144.3L233.9 142.9L232.5 142.8L231.8 142L230.4 142.7L227.2 143L221.5 142.4L218.5 141.8L216.1 141.5L215.3 140.7L217.9 139.7L215.6 139.7L216.9 137.6L219.9 135.7L222.3 134.8L226.8 134.3ZM180.4 135.7L178.5 136.7L182.8 136.1L183.8 137.1L186.8 136.1L187.5 136.7L186.6 138.8L188.4 137.9L189.5 135.8L191.3 135.5L192.5 135.8L193.4 136.7L192.3 138.7L191.3 140.2L193 141.3L195 142.3L193.9 143.3L191 143.5L191.4 144.3L190.1 145.1L187.3 144.8L185 144.2L182.9 144.3L179.1 145.1L174.5 145.4L171.3 145.6L171.4 144.6L169.7 144L168 144.2L167.7 142.5L169.1 142.2L172 141.9L174.2 142L176.8 141.6L174.1 141.1L170.4 141.3L168.1 141.2L168.2 140.4L172.9 139.6L170.4 139.6L168.2 139L171.4 137.4L173.5 136.6L179.2 135.3ZM160.7 139.5L158.3 138.4L160.1 137.5L163.2 135.9L166.3 134.5L166.4 133.3L172.1 133L173.8 133.4L177.7 133.5L178.5 134.1L179.1 135L176.5 135.5L170.8 137L167.1 138.5L166 139.4L160.5 140.4ZM269.1 117.1L272.6 117.2L275.4 117.4L277.5 117.9L277.1 118.3L273.1 119L269.4 119.3L267.8 119.6L270.8 119.6L266.6 120.6L263.8 121.1L260 122.5L256.7 122.8L255.4 123.2L250.8 123.4L252.6 123.7L251.3 124L251.6 124.9L249.5 125.6L246.7 126.1L245.3 126.9L242.6 127.4L242.4 127.9L245 127.8L244.6 128.3L239.4 129.5L236 128.9L231.2 129.2L229.2 129L226.4 128.9L227.2 127.9L230.5 127.5L231.3 126.1L232.3 126L235.4 126.8L234.7 125.6L232.7 125.2L234.8 124.5L237.9 124L239 123.4L237.8 122.6L238.3 121.7L242.1 121.8L243 122L246 121.4L243 121.2L237.9 121.3L236.1 120.7L235.7 120L234.7 119.6L235.1 119L237.6 118.7L239.3 118.7L242.3 118.4L245 117.8L246.7 117.9L247.6 118.3L249.7 117.5L251.8 117.3L254.4 117.1L258.6 117L259.2 117.2L263.4 116.9L266.2 117ZM238.3 132L234.1 133L232.3 132.7L227.6 133L224.3 133.1L222 132.8L218.5 132.1L219.1 131L220 130.1L219.4 129.2L216.5 128.9L215.4 128.3L216.9 127.5L219.9 127.7L220.9 128.3L223.8 128.3L224.5 128.9L223.3 129.7L224.6 130.1L225.1 130.6L227.1 130.7L229.2 130.9L232 130.4L235.3 130.3L237.7 130.4L238.7 131.1ZM214.2 152.1L213.8 153.1L214.9 152.7L215.5 153.3L216.9 154.1L218.5 154.8L217.9 156L219.3 155.8L220.1 156.5L218.1 157.3L215.6 156.7L215.3 155.7L212.8 156.9L209.4 158.1L209.7 156.7L207.2 157L209.5 155.8L211 154L213 151.9ZM197.7 137L198.4 136.3L201.4 136.6L201.1 135.2L204 134.2L205.4 134.7L208.5 134.4L208.3 135L205.8 136L207.4 136.9L205.3 138.8L201.8 139.6L200.4 139.4L200.1 138.6ZM213.2 136.5L210 138L208.2 138L209 136.1L210 135L211.7 134.2L213.8 133.6L217 133.7L219.6 134.2L215.5 136ZM202.1 144.3L200.4 145.1L198.7 144.5L197.2 144.7L195.7 143.7L197.8 143L199.8 142.1L201 142.7L201.7 143.1L201.8 143.5ZM200.3 129.9L197.3 131.8L191.6 132.1L186.6 133L184.2 133.1L184.8 132.4L189.1 131.5L181.8 131.7L180.1 131.4L184.8 129.4L187 128.9L190.4 129.5L191.6 130.7L194.1 130.9L194.3 129L196.7 128.3L198 128.5L197.3 129.4L197 130.1L198.7 129.8ZM213.4 129.3L212.3 130.3L209.9 131.8L207.1 132L205.8 131.7L207.2 130.5L204.5 130.7L206.2 129.1L207.8 129.2L210.9 128.5L212.9 128.7ZM236.9 122.8L238 123.4L235.3 123.9L231 125.4L228.2 125.5L225.4 125.3L224.8 124.5L225.6 123.8L227.4 123.3L224.7 123.3L224 122.7L224.1 121.9L226.1 121.1L227.8 120.6L229.4 120.5L229.2 120.1L232.6 120L233.3 120.9L235.2 121.3L237.2 121.6ZM207.3 125.2L209.5 124.6L208.4 124.2L209.3 123.5L211.8 123.7L214.8 124.4L214.8 125.3L214.3 126.1L212.2 125.9L210.5 125.3ZM222.1 126.8L221.4 126.9L218.7 126.8L219 126.2L221.9 126.3L222.5 126.6ZM218.2 124.3L220 124.3L220.7 124.5L221.6 125.1L220.4 125.8L217.7 126.2L217 125.8L217.3 125ZM189 126.6L186.7 128.1L184.6 128.8L183 128.9L179 129.7L176.1 130L174.7 129.6L179.3 128.1L184.3 126.9L186.6 126.9ZM197.8 125.6L199.4 125.9L198.1 126.5L194.6 127.1L193.2 126.4L195.3 125.8ZM200 124.4L201.3 124.8L199 125.1L196.6 125.1L197 124.9L199.3 124.3ZM216.5 130.5L217 131.2L216.9 131.9L215.3 132.7L213.2 132.5L211.8 132L213.6 131.1ZM235.4 134.4L238.9 134.6L240.7 135.8L240.4 136.3L238.8 136.3L237.1 136.2L235.1 136.5L234.7 136.4L233.9 135.3L234.6 134.5ZM232.5 148.7L230.5 148.8L230.8 147.7L232.3 146.5L234.1 146.2L235 146.8L234.4 147.7L234 148.1ZM215.4 158.9L212.5 160.2L211.2 160.2L211.3 159.5L213.3 158.5L215.7 158.5ZM218.5 159.7L219.2 159.7L219.3 160.2L217.9 161.5L217.2 161.3L217.2 160.5L217.3 160.4ZM202 182.5L203.9 182.2L204.4 182.7L202.9 183.1Z" fill="#fef0d9"/>
</g>
<path d="M298.2 117.9L303.4 116.9L308.2 117L310.2 116.5L315.1 116.3L325.8 116.5L333.9 117.7L331.2 118.3L325.9 118.4L318.4 118.5L318.9 118.8L323.9 118.6L327.9 119.2L330.8 118.7L331.7 119.3L329.9 120.2L333.6 119.6L340.6 119L344.7 119.3L345.3 120L339.3 121.2L338.5 121.6L333.8 121.9L337.1 121.9L335.1 123.3L333.6 124.5L333.1 126.6L334.6 127.9L332.2 128L329.6 128.6L332.2 129.6L332.1 131.3L330.4 131.5L332.1 133.3L328.6 133.4L330.2 134.3L329.5 135L327.2 135.3L325 135.3L326.7 136.7L326.5 137.7L323.5 136.8L322.5 137.4L324.6 137.9L326.4 139.2L326.7 141L323.7 141.4L322.6 140.5L320.9 139.3L321.1 140.8L318.9 141.9L323.2 142L325.5 142.1L320.6 144L315.6 145.8L310.5 146.5L308.6 146.5L306.6 147.4L303.6 149.8L299.4 151.4L298.2 151.4L295.7 152L293 152.5L291 154L290.5 155.6L289.1 157.1L285.6 159L285.7 160.8L284.2 162.8L282.6 165.1L279.9 165.2L277.9 163.3L274.2 163.3L272.9 162L272.6 159.7L270.6 156.8L270.3 155.3L271 153.2L269.5 151.1L270.8 149.4L270 148.6L272.9 146L275.8 145.2L276.9 144.3L278 142.5L275.8 143.3L274.7 143.6L273 144L271.4 143.2L272 141.8L273.2 140.6L274.7 140.6L277.8 141.1L275.7 139.8L274.6 139L272.8 139.3L271.7 138.8L274.6 136.8L274.1 136.1L273.6 134.6L273 132.4L271.5 131.6L272.1 130.8L268.8 129.6L265.7 129.5L261.5 129.6L257.7 129.7L256.4 129.1L254.8 127.8L259.3 127.2L262.4 127.1L256.4 126.6L253.8 125.8L254.7 125.1L261.1 124.2L267.2 123.3L268.4 122.6L265.1 122L267 121.3L272.9 120.1L275.1 119.9L275.2 119.2L278.8 118.8L283.3 118.5L287.6 118.5L288.7 119L293 118.2L295.9 118.7L297.8 118.9L300.3 119.4L297.6 118.5Z" fill="url(#hatch2)" stroke="#cdcdcd" stroke-opacity="1"/>
<path d="M688 327L691.9 328.8L696.1 330.3L697.6 331.6L698.8 333L699 334.5L702.8 336.1L703.2 337.5L701.1 337.8L701.5 339.5L703.4 341.2L704.6 344L705.9 343.9L705.7 345.1L707.4 345.5L706.7 346L709 347.1L708.7 347.9L707.1 348L706.6 347.4L704.7 347.1L702.4 346.7L700.8 345L699.7 343.6L698.7 341.3L695.8 340.1L693.8 340.9L692.3 341.8L692.4 343.7L690.5 344.6L689.3 344.1L686.9 344L687.5 335.5ZM714.7 329.8L715.5 330.6L715.7 332L714.9 332.7L714.6 331.1L714.1 330.1L713.1 329.2L711.9 328.1L710.2 327.4L710.9 326.7L712.1 327.5L712.9 328L713.8 328.7ZM711.2 335.5L709.9 336.1L708.7 336.7L707.5 336.7L705.6 336L704.4 335.2L704.6 334.4L706.7 334.8L707.9 334.6L708.4 333.3L708.7 333.3L708.8 334.7L710.2 334.5L710.9 333.6L712.2 332.6L712.1 331.1L713.5 331L713.9 331.5L713.8 332.9L712.9 334.5L711.6 334.7ZM719.3 334.2L719.9 334.8L721 336.4L722 337.3L721.6 338L720.9 338.3L720 337.3L719.1 335.6L718.8 333.6L719.1 333.4Z" fill="#fc8d59"/>
<path d="M735 347.6L735.5 348.5L733.9 348.5L733.2 346.9L734.5 347.5ZM732.2 346L731.3 346.1L730 345.8L729.5 345.4L729.8 344.4L731.3 344.8L732 345.3ZM734.2 345.3L733.8 345.8L732.4 343.5L732.1 341.9L732.8 341.9L733.5 344ZM730.4 342L730.5 342.5L728.8 341.4L727.6 340.5L726.8 339.6L727.2 339.3L728.2 340L730 341.2ZM725.3 339.4L724.8 339.5L723.9 339L723 337.9L723.2 337.5L724.4 338.6Z" fill="#fc8d59"/>
<path d="M483.6 276.7L482 277.4L481.7 278.5L481.7 279.4L479.4 280.5L475.9 281.7L473.9 283.6L472.9 283.7L472.2 283.6L470.9 284.7L469.5 285.2L467.6 285.3L467 285.5L466.6 286.1L465.9 286.3L465.6 287L464.5 286.9L463.8 287.3L462.2 287.2L461.5 285.6L461.5 284.2L461.1 283.4L460.6 281.5L459.9 280.4L460.3 280.3L460 279.1L460.3 278.6L460.1 277.5L461.1 276.6L460.8 275.5L461.3 274.2L462.3 274.9L462.9 274.7L465.5 274.6L465.9 274.9L468.2 275.2L469 275L469.6 275.9L470.7 275.4L472.1 272.7L474.2 271.5L480.6 270.5L482.7 274.8Z" fill="#fdbb84"/>
<path d="M225 298.3L226.5 299.3L227.8 301L227.9 302.3L228.7 302.4L229.9 303.7L230.8 304.6L230.4 306.9L229 307.6L229.1 308.2L228.6 309.6L229.6 311.5L230.3 311.5L230.6 313L232 315.2L231.4 315.3L230.1 315.1L229.4 315.8L228.3 316.3L227.6 316.4L227.3 316.9L226.2 316.7L224.8 315.5L224.6 314.3L224.1 313L224.5 310.8L225.1 309.8L224.6 308.6L223.9 308.3L224.2 307.1L223.7 306.5L222.5 306.6L221 304.6L221.6 303.9L221.6 302.7L223 302.3L223.6 301.8L222.9 300.8L223.1 299.9Z" fill="#fdbb84"/>
<path d="M238.1 305.1L238.9 305.4L240.6 306.1L243 308.3L243.3 309.3L241.9 311.7L241.2 313.7L240.3 314.7L239.2 314.8L238.9 314.1L238.4 314L237.6 314.7L236.6 314.2L237.2 313.1L237.5 311.9L237.9 310.7L237 309.2L236.9 307.4Z" fill="url(#hatch2)" stroke="#bdbdbd" stroke-opacity="1"/>
<path d="M211.8 271.8L212.9 272L213.3 272.5L212.6 273.2L210.9 273.2L209.6 273.3L209.6 272.2L209.9 271.8Z" fill="url(#hatch2)" stroke="#bdbdbd" stroke-opacity="1"/>
<path d="M636.4 256.4L635.9 260.6L635.4 262.8L633.8 260.6L633.1 258.6L633.9 256.1L635.3 254.1L636.5 254.8ZM737.8 375.3L739.2 376.9L740.1 378.1L739 378.8L738 378L736.7 376.9L735.6 375.5L734.5 373.6L734.4 372.8L735.4 372.8L736.5 373.7L737.2 374.6ZM745.4 363.3L744.6 363.6L744.1 362.4L744.3 361.7ZM744.5 359.2L744.5 361.3L743.9 361L743.4 361.2L743.3 360.4L743.6 358.4ZM501.3 447.9L503.2 447.1L504.6 448.1L503.6 449.4L501.2 449.4Z" fill="url(#hatch2)" stroke="#bdbdbd" stroke-opacity="1"/>
<path d="M393.3 226.0h0.9v0.7h-0.9ZM671.8 300.5h0.9v0.7h-0.9ZM679.6 295.0h0.9v0.7h-0.9ZM711.6 300.5h0.9v0.7h-0.9ZM726.5 301.8h0.9v0.7h-0.9ZM737.8 306.0h0.9v0.7h-0.9ZM756.4 301.3h0.9v0.7h-0.9ZM761.5 316.2h0.9v0.7h-0.9ZM747.4 321.2h0.9v0.7h-0.9ZM222.5 281.7h0.9v0.7h-0.9ZM221.8 279.6h0.9v0.7h-0.9ZM221.8 285.3h0.9v0.7h-0.9ZM220.5 288.2h0.9v0.7h-0.9ZM225.6 285.5h0.9v0.7h-0.9ZM221.6 277.4h0.9v0.7h-0.9ZM221.2 275.2h0.9v0.7h-0.9ZM219.1 274.6h0.9v0.7h-0.9ZM218.6 272.7h0.9v0.7h-0.9ZM214.5 273.5h0.9v0.7h-0.9ZM222.5 283.5h0.9v0.7h-0.9ZM203.9 288.1h0.9v0.7h-0.9ZM201.7 287.2h0.9v0.7h-0.9ZM531.4 308.9h0.9v0.7h-0.9ZM530.8 318.3h0.9v0.7h-0.9ZM490.0 332.0h0.9v0.7h-0.9ZM377.3 319.2h0.9v0.7h-0.9ZM379.1 315.7h0.9v0.7h-0.9ZM307.3 278.0h0.9v0.7h-0.9ZM308.1 280.5h0.9v0.7h-0.9ZM304.8 275.4h0.9v0.7h-0.9ZM774.4 342.1h0.9v0.7h-0.9ZM492.4 372.8h0.9v0.7h-0.9ZM487.7 375.0h0.9v0.7h-0.9ZM465.5 353.3h0.9v0.7h-0.9ZM461.5 350.3h0.9v0.7h-0.9ZM463.9 351.7h0.9v0.7h-0.9ZM745.4 321.2h0.9v0.7h-0.9Z" fill="#fef0d9" stroke-opacity="0.45"/>
<path d="M463.2 199.2L465 198.6L467.1 197.5L469 198.1L471 198L471.8 199.6L472.1 202.1L470.2 201.7L468.5 202.1L468.9 204L466.9 203.8L467.1 204.6L468.4 205.3L469.9 207.6L472.6 208.5L473.2 209.4L472.9 210.4L473.2 211.1L474.2 212.7L474 210.8L475.5 210.2L476.5 211.7L478.4 213.2L476.7 214L474.6 213.4L474.6 215.6L476.1 215.7L475.9 217.5L477.7 218.4L478 221.1L478.8 223L478.7 223.6L475.4 224.3L472.3 223.8L470.6 222.5L468.4 222L467.4 220.1L467.1 218.8L467.7 218.2L467.9 217.2L469.6 215L467.9 215.2L467.8 214.2L466.3 212.4L464.9 211L462 207.9L461.8 206.2L459.3 203.8L460.8 201.1L462.7 200.7L463.2 199.2Z" fill="#fff"/>
<path d="M114.4 192.5L120.4 192.5L126.4 192.5L134.5 192.5L140.5 192.5L146.5 192.5L152.6 192.5L159.4 192.5L166.3 192.5L170.5 192.5L171 191.6L171.7 191.6L171.3 192.9L171.8 193.4L173.1 193.5L175 193.9L176.6 194.7L178.4 194.4L180.5 195.1L181.2 195L183.4 194.3L184.8 195.2L186.4 196.2L187.7 197.1L188.9 197.9L188.8 198.6L189.2 198.8L189 199.1L189.5 199.1L190 198.9L189.8 199.5L190.1 199.9L190.6 199.9L190.8 200.2L190.4 200.7L192 201.9L191.5 204.2L191.1 206.4L189.9 208L188.3 209.4L187.5 210.3L187.4 210.6L187.5 210.9L188.1 211.3L188.6 211.3L191.5 210L193.9 209.5L197.1 208.3L197.2 208L197.3 207.2L197.2 206.7L198.3 206.3L200.3 206.3L202.2 206.3L203.3 205.3L203.6 205.1L206.5 203.2L207.6 202.8L210.7 202.7L214.5 202.7L215 202.1L215.7 202L216.7 201.6L217.8 200.4L219.1 198.4L221.4 196.5L221.8 197.2L223.3 196.7L224 197.5L222.8 201L223.7 202.4M127.8 143L103.3 164.6L105 164.7L106.1 165.3L106.3 166.4L106.4 168L109.5 166.6L112.2 165.8L111.9 167.1L112.2 168.1L112.9 169.2L112.5 170.9L111.9 173.7L113.8 175.2L112.5 176.8L110.4 178M105.1 235.1L107.7 235L110.6 234.7L110.2 235.2L113.1 236.4L117.5 238.3L121.9 238.3L123.6 238.3L124 237.2L127.8 237.2L128.3 238.1L129.2 239L130.1 240.1L130.5 241.5L130.6 242.9L131.6 243.7L133.2 244.5L135.2 242.4L137 242.4L138.3 243.4L138.9 245.2L139.3 246.7L140.3 248.2L140.4 250L140.8 251.3L142.3 252.1L143.8 252.7L144.7 252.6M151.5 282.2L151.7 281.4L152 280.8L151.7 280.3L153.1 278.2L156 278.2L156.2 277.3L155.8 277.1L155.6 276.6L154.9 276L154.1 275.1L155.2 275.1L155.3 273.6L157.5 273.6L159.6 273.6M159.6 273.6L159.6 273.3L159.9 273.1L160.3 273.5L161.3 271.9L161.7 271.8M159.6 273.6L159.3 275.7L158.8 278.7L159.5 278.7M161 279.1L159.9 280.1L158.7 280.8L158.5 281.3L158.6 281.8L158.1 282.5M158.1 282.5L157.5 282.7L157.6 283L157.2 283.3L156.3 283.9L156.2 284.3M158.1 282.5L158.7 282.7L159.2 283.2L159.8 283.7L159.9 284L160.9 283.7L161.4 283.9L161.7 284.2L161.4 285.2M162.4 286.3L163.1 286.1L163.5 285.6L163.8 285.5L163.9 284.3L164.4 284.2L164.9 284.2L165.4 283.5L166.1 284L166.3 283.7L166.8 283.4L167.6 282.7L167.7 282.1L168 282.2L168.3 281.5L168.6 281.5L168.9 281.9L169.4 282L169.9 281.6L170.5 281.6L171.3 281.3L171.6 280.9L172.4 281M165.7 291.2L167.5 291.6L168.1 291.2L168.8 291.4L169.1 292L169.8 292.2L170.4 291.6M171.5 298.7L171.7 298.2L171.9 297.6L171.9 297.2L172.2 296.9L171.7 296.5L171.8 295.4L172.7 295.2M199.8 268.7L199.8 270.1L199.5 271.1L198.9 271.5L199.4 272.3L199.3 273M198.8 289.4L197.3 289.9L196.7 291.2L195.7 291.9L195 292.9L194.6 294.7L193.9 296.3L195.1 296.4L195.3 297.6L195.8 298.2L195.9 299.3L195.6 300.3L195.7 300.8L196.2 301L196.7 301.9L199.7 301.7L201.1 302L202.6 304.3L203.5 304L205.2 304.1L206.5 303.8L207.3 304.3L206.9 305.7L206.3 306.6L206.1 308.4L206.5 310.2L207.1 310.9L207.2 311.5L206 312.8L206.8 313.4L207.4 314.3L208.1 316.9M208.1 316.9L207.6 317.2L207.2 315.7L206.6 314.9L205.8 315.8L201.3 315.7L201.3 317.4L202.7 317.6L202.6 318.6L202.1 318.3L200.8 318.8L200.8 320.7L201.8 321.6L202.2 323.1L202.2 324.3L201.3 331.4M201.3 331.4L200.1 330.1L199.4 330L200.8 327.3L199 326.1L197.7 326.3L196.8 325.9L195.5 326.6L193.8 326.2L192.4 323.5L191.4 322.8L190.6 321.6L189.1 320.4L188.5 320.6M188.5 320.6L187.5 320L186.3 319.1L185.7 319.5L183.7 319.2L183.2 318L182.7 318.1L180.4 316.6M188.5 320.6L188.8 322.6L188.1 324.3L185.6 327L182.9 328L181.5 330.3L181.1 332.1L179.9 333.2L178.9 331.8L177.9 331.6L177 331.8L176.9 330.8L177.5 330.2L177.2 329.1M201.3 331.4L199.2 331.3L198.9 331.7L197 332.2L194.4 334L194.3 335.2L193.8 336.1L194 337.5L192.7 338.3L192.7 339.4L192.1 339.9L193.2 342.2L194.5 343.8L194.1 344.9L195.7 345.1L196.6 346.5L198.6 346.5L200.4 345L200.5 349L201.6 349.3L202.8 348.8M202.8 348.8L205.1 353L204.6 353.9L204.7 355.8L204.8 358L204 359.3L204.5 360.2L204 361.1L205.2 363.3L204 366.2M204 366.2L203.5 367.5L202.4 368.2M204 366.2L205.3 367.9L205.8 369.8L207.1 370.9L206.7 373.4L208.2 376.4L209.5 380L211.1 379.6M211.1 379.6L210.9 383L208.6 384.3L209.3 388.7L209 389.5L209.8 390.5L208.4 392.1L207.4 394.6L207 397L207.7 399.5L206.8 402.2L208.8 406.7L209.5 407.2L210 409.6L209.4 412.1L210 414.3L208.8 416L209.4 418.4L210.7 420.9L209.7 421.9L209.8 424.2L210.1 426.9L211.5 430L210.8 430.5L212.3 433.5L213.5 434.5L213.2 435.6L214.4 436.1L214.9 437.1L214.2 437.6L214.9 439.1L215.4 442.5L215.1 444.7L215.8 445.9L215.8 447.6L214.7 448.7L215.9 451.4L217 452.3L218.3 452.1L219 454L220.5 455.5L225.4 455.8L227.4 456.2L228.3 456.3M227.6 457L230 462.6M211.1 379.6L211.4 380.3L212.7 377.3L215.7 377.9L217.2 379.8L217.9 377.7L220.5 377.8L220.9 378.4M220.9 378.4L222.3 371.5L226.2 370.8L228.3 370.8L230.5 372.1L230.6 373M230.6 373L231.2 372.4L230.9 370.9L231.4 369.8L231.7 367.7L231 366.1L229.7 365.3L229.4 364.3L229.6 362.8L225.2 362.7L224.1 359.6L224.8 359.6L224.7 358.5L224.2 357.7L224 356.2L222.6 355.4L221.2 355.5L220.2 354.7L218.6 354.2L217.6 353.2L215 352.8L212.4 350.4L212.5 348.7L212.2 347.7L212.3 345.7L209.3 346.2L208.2 347.2L206.2 348.2L205.7 349L204.5 349.1L202.8 348.8M220.9 378.4L225.5 382.6L227.4 383L230.3 384.9L232.7 386L233.2 387.1L231.5 391.1L233.8 391.8L236.4 392.2L238.1 391.8L239.9 389.8L240 387.5M240 387.5L240.3 386L240.4 384.4L240.3 383L239.4 382.5L238.6 382.9L237.8 382.8L237.4 381.8L237 379.4L236.5 378.6L234.9 377.9L234 378.4L231.6 377.9L231.4 374.4L230.6 373M240 387.5L242.3 388.5L242.5 390.6L240.8 392L239.5 393.1L237.3 395.6L234.8 399.2M234.8 399.2L234.6 401.3L234.5 404L235 406.6L234.6 407.1L234.8 408.8M234.8 399.2L236.2 398.9L238.8 400.9L239.6 400.8L242.1 402.5L244.1 404L245.6 405.8L244.9 407L245.8 408.5M208.1 316.9L209.3 318.3L211.1 318.1L211.6 317.3L213.3 316.7L214.3 316.3L214.6 315.2L216.2 314.4L216.1 313.9L214.1 313.7L213.9 312L214 310.3L213 309.6L213.4 309.4L215.1 309.7L216.9 310.3L217.6 309.7L219.3 309.3L221.9 308.3L222.8 307.3L222.5 306.6M222.5 306.6L221 304.6L221.6 303.9L221.6 302.7L223 302.3L223.6 301.8L222.9 300.8L223.1 299.9L225 298.3M222.5 306.6L223.7 306.5L224.2 307.1L223.9 308.3L224.6 308.6L225.1 309.8L224.5 310.8L224.1 313L224.6 314.3L224.8 315.5L226.2 316.7L227.3 316.9L227.6 316.4L228.3 316.3L229.4 315.8L230.1 315.1L231.4 315.3L232 315.2M232 315.2L230.6 313L230.3 311.5L229.6 311.5L228.6 309.6L229.1 308.2L229 307.6L230.4 306.9L230.8 304.6M232 315.2L233.2 315.4L233.4 314.9L233.1 314.4L233.3 313.6L234.2 313.9L235.3 313.6L236.6 314.2M236.6 314.2L237.2 313.1L237.5 311.9L237.9 310.7L237 309.2L236.9 307.4L238.1 305.1M236.6 314.2L237.6 314.7L238.4 314L238.9 314.1L239.2 314.8L240.3 314.7L241.2 313.7L241.9 311.7L243.3 309.3M343.5 210.8L344.3 210.2L345.1 209.8L345.6 211L346.9 211L347.2 210.7L348.4 210.8L349 212.1L348 212.8L347.9 214.8L347.6 215.2L347.4 216.4L346.5 216.6L347.3 218.2L346.7 219.9L347.4 220.7L347.1 221.4L346.3 222.4L346.4 223.2M358.5 206.8L359.4 207.8L363.2 209L364 208.4L366.3 209.6L368.8 209.3L368.9 209.3M378 206.1L378.2 205L377.1 204.7L376.5 202.7L377.2 201.9L376.5 200.9L376.6 200.2M376.6 200.2L375.8 199.1L374.9 199.5L374.9 198.3L376.3 196.9L376.2 196.3L377.2 196.5L377.7 196.1M376.6 200.2L377.5 200.8L378.5 200.7L379.6 199.8L380 200.2L380.9 200.1L381.3 199.1L382.9 199.4L383.7 199L383.9 197.9M377.7 196.1L378 196.2L379.4 196.1L379.8 195.5L382 196.3M382 196.3L382.1 196.7L381.9 197.4L382.8 197.8L383.9 197.9M383.9 197.9L385.1 198.3L385.3 197.8L387.3 197.3L387.8 198.2L390.8 198.9M390.8 198.9L390.7 200.1L391.2 201.2M377.7 196.1L377.9 194.2L378.8 192.5L375.9 192L375 191.4M375 191.4L374.4 191.4L373.9 191.2M373.9 191.2L372.1 190L371.1 190.2L369.7 189L368.7 188L367.8 188L367.5 187.1M373.9 191.2L374.1 189.8L374.6 189.7M374.6 189.7L375 190.3L375 191.4M374.6 189.7L374.8 188M374.8 188L373.7 187.4L372.4 186.3L370.5 186.8L369.1 186.6M374.8 188L374.3 185.3L375.5 185.3L376 184.4L376.4 182.1L376 181.3M379 177.6L380.4 177.9L381.6 177.6M390 180.6L390.6 181.9L390.1 182.5L390.9 183.4L391.5 184.7L391.4 185.6L392.4 187.2M392.4 187.2L391.5 187.5L390.9 187.2L390.5 187.7L389.1 188.2L388.4 188.8L387 189.3L387.4 190.1L387.7 191.1L388.7 191.8L390 192.8M390 192.8L389.3 194L388.6 194.3L389 196L388.9 196.4L388.2 195.9L387.2 195.9L385.8 196.3L384 196.2L383.7 196.9L382.7 196.2L382 196.3M392.4 187.2L393.4 188L394.9 188.2L394.8 188.9L396 189.4L396.2 188.8L397.6 189.1L397.9 189.9L399.4 190L400.4 191.3M400.4 191.3L399.8 191.3L399.5 191.7L399.1 191.9L399 192.4L398.6 192.5L398.6 192.8L398 193L397 193L396.8 193.6M396.8 193.6L395.8 193.1L394.9 193.2L393.3 192.4L392.6 192.6L391.5 193.7L390 192.8M396.8 193.6L396.7 193.9L397 194.8M397 194.8L396.9 195.8L395.7 195.8L396.2 196.4L395.6 198M395.6 198L395.3 198.5L393.5 198.5L392.5 199.1L390.8 198.9M395.6 198L396 198L396.5 198.9M396.5 198.9L394.9 199.6L394.8 200.6L394.1 200.9L394.1 201.6L393.3 201.6L392.6 201.1L392.2 201.6L390.8 201.5L390.7 201.5M396.5 198.9L397.1 199.2L398.8 200.3L400.5 200.8L401.3 200.4M397 194.8L398.1 195.4L398.8 195.7L400.5 195.4L400.6 194.9L401.4 194.8L402.4 194.4L402.6 194.6L403.5 194.2L403.9 193.7L404.6 193.5L406.8 194.3L407.2 194M407.2 194L408.4 194.7L408.7 195.4M408.7 195.4L407.5 195.9L406.7 197.7L405.6 199.4L404.1 199.9M404.1 199.9L402.8 199.8L401.3 200.4M400.4 191.3L400.5 191.4L401.3 191.1L402.5 192L403.6 191.4L404.6 191.7L406 191.3L408 192.3M408 192.3L407.5 193L407.2 194M408 192.3L408.5 192.5L407.8 191.3L409.4 189.2L410.3 188.9L410.4 188.2L409.1 186M409.1 186L408.9 184.9L408.1 183.7L409.3 183.2L409.1 182.2L408.4 181.3L408.2 180.2M408.2 180.2L407.6 179.4L406.6 179.2M406.6 179.2L403 179.2L400.6 178.9M406.6 179.2L406.3 178.5L406.4 177.9L405.5 177.5L403.4 177M408.2 180.2L410.1 180.2L412 179.3L412.2 177.9L413.7 177.1L413.3 176M413.3 176L411.3 174.8L410.2 174.7L409.9 174.1L408.1 174.4L404.8 174.2L402.8 175M413.3 176L414.4 175.6L416.3 174.6M416.3 174.6L415.4 173.2L415 172L414 171.5M414 171.5L412.4 171.4L410.7 170.5L409.8 170.2L408.3 170.7M414 171.5L414.7 170.7L413.7 168.4L414.7 167L414.4 166.6M416.3 174.6L418.4 175.2L418.8 175.9L419.8 175.6L421.7 176.1L422.2 177.3L421.9 178L423.4 179.6L424.3 180.1L424.3 180.5L425.7 180.9L426.4 181.6L425.7 182.1L424.1 182L423.8 182.3L424.4 183.1L425.2 184.7M425.2 184.7L423.6 184.9L423.1 185.4L423.2 186.7L422.3 186.4L420.5 186.6L419.9 186L419.3 186.4L418.5 186.1L416.9 186L414.6 185.4L412.6 185.2L411 185.2L410.1 185.9L409.1 186M425.2 184.7L426 184.8L426.4 184.2L427 184.4L429 184.1L430.5 185.6L430.1 186.1L430.5 186.8L432.1 187L433 188.1L433.1 188.5L435.8 189.4L437.2 189L438.7 190.2L439.9 190.2L443 191L443.2 191.8L442.7 193.1L443.4 194.5L443.3 195.3L441.3 195.5L440.4 196.2L440.6 197.4M416.5 194.5L416.9 194.1L418.2 193.9L419.8 194.7L420.7 194.8L421.7 195.5L421.7 196.3L422.5 196.7L422.9 197.8L423.8 198.5L423.7 198.8L424.1 199.1L423.6 199.3L422.4 199.2L422.1 198.9L421.7 199.1L421.9 199.5L421.5 200.3L421.2 201.2L420.7 201.5M420.7 201.5L420.2 200.3L420.3 199.2L420.1 198.1L418.7 196.6L417.9 195.5L417.1 194.8L416.5 194.5M408.7 195.4L409.5 194.8L410.8 195.1L412.1 195.1L413.1 195.7L413.7 195.4L415.2 195.1L415.6 194.5L416.5 194.5M420.7 201.5L421.7 202L422.7 201.6L423.6 202M404.1 199.9L405.3 200.9L405.6 201.7L406.9 202.3L407.2 203.4L408.5 204.1L409.1 203.5L409.6 203.8L409.2 204.3L409.6 204.7M409.6 204.7L410.3 205.8L411.1 205.6L412.8 206L415.8 206.1L416.8 205.5L419.2 204.9L420.8 205.8L422.1 206.1M409.6 204.7L409.2 205.3L409.4 206.3L410.6 207.4L409.9 208.2L409.6 209L409.9 209.3L409.5 209.7M409.5 209.7L410.7 210.5L411 212.2M411 212.2L412.6 212.3L414.2 211.6L415.8 212.5L417.7 212.2L417.6 210.9M417.6 210.9L419.6 210.1L421.5 210.5M417.6 210.9L418.6 211.6L418.2 213.2L417.7 213.6M411 212.2L410.6 212.3L410.3 212.8L409.2 212.7L408.4 213.3L407 213.5M407 213.5L407.1 214.2L406.4 214.5L406.4 215.4L405.5 216.7M407 213.5L406.1 212.9L405.7 211.7L405.9 210.9M405.9 210.9L405.7 209.9L405.1 209.7L404.6 209M404.6 209L404.1 209.2L403.9 208.7L403.1 210L403.3 210.8M405.9 210.9L406.2 210.9L406.2 210.4L407.4 210L407.9 209.9M407.9 209.9L408.6 209.7L409.5 209.7M407.9 209.9L408.2 208.7L407.9 208.7L407.4 208.3L407.1 208.1L406.8 207.7L406.4 207.6L406 207.2L405.7 207.3L405.5 208.2L405 208.4M405 208.4L404.6 209M405 208.4L405.1 208.2L404.3 207.6L403.6 207.4L403.2 207L402.6 206.6M402.6 206.6L402.3 206.8L401.6 207.4L401.4 208.8M401.4 208.8L401.2 209.3M402.6 206.6L403.1 206.4L403.3 205.2L402.2 204.3L402.6 203.1L401.9 203.1M401.9 203.1L400.9 202.6L399.4 202.6L397.6 202.2L396.7 202.2L396.3 202.8L395.5 202.2L395.1 203.2L396.2 204.4L396.8 205.2L397.8 206.2L398.6 206.8L399.5 207.8L401.4 208.8M401.9 203.1L402.6 202.1L401.8 201.4L401.3 200.4M414 164.1L417.3 161.1L418.6 159.7L419 158.5L416 157L416.3 155.4L414.3 153.7L415.1 151.7L412.4 149.2L413.6 147.5L410.6 146L410.5 144.5M410.5 144.5L410.8 142.9L408.4 142L406 142.8L405.6 144.4L404.2 145.4L402.3 144.8L400.1 144.9L398 143.8L397.1 144.3M397.1 144.3L399.6 145.4L402.5 146.9L403.2 150.4L404 151.3M397.1 144.3L396.1 144.4L396.1 145.9L392.8 145.5L392.6 146.8L391 146.8L390.1 148.4L388.7 150.9L386.3 154.1L387.1 154.9L386.5 155.8L384.8 155.7L383.8 157.9L384.2 161.1L385.5 162.3L385.2 165.1L383.8 166.7L383.1 168.1M410.5 144.5L411.8 144.2L414.4 143.3M347.9 177.2L348.2 178.5L347.8 179.8L349 179.8L350.4 180.3M450.2 211.7L452.5 211.6L454.7 212.9M454.7 212.9L455.2 213.8L455.3 215L457 215.7L458 216.4M458 216.4L456.6 217.2L457.8 220.2L457.5 221L459.1 223M459.1 223L458.1 223.5L457.2 222.8L454.7 222.5L453.8 222.9M453.8 222.9L451.4 223.3L450.2 223.3L447.9 224.2L446.1 224.2L444.9 223.8L442.6 224.5L441.9 224L441.9 225.4L441.4 226L440.9 226.6M446 206.8L446.2 206.5L448 206.9L451.2 207.3L454.3 208.6L454.7 209.1L455.9 208.7L458 209.2L458.9 210.3L460.3 210.9M460.3 210.9L459.8 211.2L461.1 212.6L460.9 212.9L459.7 212.8L458 212L457.6 212.4M457.6 212.4L454.7 212.9M457.6 212.4L458.2 213.1L459.1 213.6L458.8 214.2L460 215.1L459.6 215.9L460.6 216.6L461.7 217.1L462.1 218.9M462.1 218.9L461.3 219M461.3 219L460.2 217.5L460.1 217.1L459.2 217.1L458.4 216.4L458 216.4M458 216.4L458.5 217.4L459.8 218.6L461.3 219M460.3 210.9L460.9 210.9L462.7 212.5L463.7 212.7L463.9 212L464.9 211M462.1 218.9L464.2 217L465 216.8L465.8 217.5L465.3 218.8L466.9 220.2L467.4 220.1M439.5 233.7L440.3 233.7L440.4 233.3L441 233.2M441 233.2L441.4 231.8L442.4 230.8L442 229.8L441 229.6L440.9 229.7M441 233.2L441.2 234.3L440.9 234.7M440.9 234.7L440.7 235.5L440.8 237.1L440.6 237.9L440.7 238.9L440 243.1M440.7 235.5L439.8 235.2L439.5 236.9L440.1 237.2L439.6 237.5L439.6 238.3L440.6 237.9M438.2 238.6L438.6 237.6L438.7 237.7M440.9 234.7L443.5 235.7L447.5 232.9M447.5 232.9L452 230.2L452.3 227.1L451.9 225.2L453 224.5L453.8 222.9M447.5 232.9L448.8 236.1M448.8 236.1L448.4 236.5L444.1 237.8L446.6 240.4L445.9 240.9L445.6 241.8L444 242.1L443.5 243.1L442.7 243.9L440.1 243.5M448.8 236.1L451.5 236.8L455 238.7L461.9 243.9L466 244.1M466 244.1L467.3 241.6L468.8 241.8M466 244.1L468 244.4L468.7 245.6L470.3 245.6M459.1 223L461 226.2L462.5 226.9L462.9 228.5L462 229.4L461.8 231.4L463.7 233.9L466.5 235.3L468 237.3L467.9 239.2L468.6 239.2L468.8 240.6L470.2 242M476.7 255.5L477.4 256L478 255.8M478.6 256.8L478.7 257.4L479.8 260.1L486.7 261.4L487.1 260.8M487.1 260.8L487.1 259.8L487.6 258.7L487.5 257.6L488.5 257.1L488.1 256.8L488.1 255.1L489.2 255.1M488.7 253L488.2 252.1M487.1 260.8L488.3 262.7L487.2 267.9L480.6 270.5M480.6 270.5L482.7 274.8L483.6 276.7M480.6 270.5L474.2 271.5L472.1 272.7L470.7 275.4L469.6 275.9L469 275L468.2 275.2L465.9 274.9L465.5 274.6L462.9 274.7L462.3 274.9L461.3 274.2L460.8 275.5L461.1 276.6L460.1 277.5M433.7 228.3L435.3 228.7L436.4 228.6M463.2 199.2L462.1 198.8L462 197.4L460.3 195.7L458.8 195.8L456.6 194.1L457.3 192.2L456.6 191.6L457.5 188.9L459.9 190.3L459.7 188.5L463 185.8L466.1 185.7L471 187.4L473.7 188.4L475.4 187.4L478.6 187.3L481.6 188.6L481.9 187.9L484.7 188L484.8 186.8L481 185.1L482.4 183.8L481.8 183.2L483.4 182.5L481.4 180.8L481.9 180L488.9 179.1L489.5 178.5L494 177.6L495.2 176.5L498.9 177.1L500.7 179.7L502.5 179L505.4 179.9L505.8 181.3L507.6 181.1L511.4 178.8L511.1 179.5L514.5 181.5L521.9 187.8L522.4 186.5L525.8 188L528.3 187.3L529.6 187.8L531.3 189.2L532.9 189.7L534.3 190.8L536.7 190.4L538.5 192M538.5 192L539.2 191.8M539.2 191.8L541.1 191.3L543.9 189.2L546.3 188L548.4 188.7L550.5 188.8L552.5 190L554.5 190.1L557.8 190.7L558.8 188.9L557.1 187.5L557.7 184.8L560.5 185.9L562.5 186.2L565.2 186.8L566.7 188.7L570.1 189.8L571.7 189.3L574.1 189L576.3 189.3L579 190.5L581 191.8L582.8 191.8L585.6 192.2L587.1 191.6L589.5 191.2L591.3 189.4L592.7 189.7L594.2 190.5L596.5 190.3M596.5 190.3L599.5 191.2L601.3 189.7L600.6 188.5L600.5 185.9L601 185.1L600 183.7L598.5 183.1L599.2 181.9L601.3 181.4L603.8 181.3L607.3 182.1L609.7 183L612.9 185.5L614.4 186.6L616.2 188.1L618.8 190.6L622.8 191.4L626.4 193.2L628.9 195.6L632 195.6L633.1 194.6L635.9 193.9L636.4 196.2L636.3 197.1L637.4 199.9L637.7 202.4L634.9 201.9L633.7 202.8L635.7 205.1L637.2 208.1L636.2 208.2L637 209.5M637 209.5L637.6 209.9M637 209.5L636.7 209.8L634.7 207.9L634.8 209.4L632.2 210.5L633.3 211.9L631.4 211.8L629.9 211L629.5 212.8L627.9 214.2L627 215.9M633.9 221.5L633.9 221.3L634.9 221.4L635.2 220.2L636.7 220.1L637.5 219.9L637.5 219.3M539.2 191.8L540.5 193.6L542.9 194.9L546.2 195.9L548.6 197.9L549.2 200.9L550.4 202L553 202.5L556 202.8L559.2 204.4L560.6 204.7L562.7 207.1L564.6 208.6L566.9 208.6L571.5 209.2L574.1 208.8L576.3 209.2L580.2 210.7L582.7 210.7L584 211.5L585.8 210.2L588.8 209.3L591.9 209.2L593.9 208.3L594.7 206.9L595.7 206L594.9 205.2L593.7 204.1L593.9 202.5L595.2 202.7L597.6 203.2L598.9 201.9L601.5 200.9L602 199.2L603 198.5L605.8 198.1L607.6 198.4L607.2 197.5L604.3 195.7L602.2 194.9L601.2 195.9L599 195.5L598 195.8L596.8 194.7L596.7 192.2L596.5 190.3M538.5 192L537.8 193.7L536.2 193.9L537.2 196.5L536.6 197.6L532.2 196.8L532.6 201.4L531.8 201.9L528.1 203L531.7 207.4L530.5 208.1L531.2 209.6M531.2 209.6L531.1 210.2L528.3 211.6L527.9 212.6L525.2 212.9L525 214.6L522.6 214.2L521.3 214.7L519.7 216L520.2 216.6L519.7 217.2M519.7 217.2L521 219.6L521.6 219.3L523.1 219.9L523.3 220.9L524 222.4M524 222.4L524.6 223.2M524.6 223.2L526.6 224.4L527.7 226.4L531.6 227.4M531.6 227.4L534.7 230.5L535.1 232.6L536.3 234L536.5 235.3L534.9 234.9L536.2 237.8L538.7 239.5L542.2 241.3M542.2 241.3L543 240.7L544.9 241.5L547.5 243.2L548.9 243.6L549.9 244.8L551.7 245.3L553.8 246.5L556.4 247.1L559.1 247.3M559.1 247.3L560.3 246.8L560.9 248.8M560.9 248.8L562 246.9L563.1 246.2L564.8 246.9L566 246.9L567.1 247.6M567.1 247.6L568.8 247.3L570.4 245.3L572.6 243.7L574.6 244.3L575.9 243.2L577.4 244.8L576.9 245.9L579.4 246.3M579.4 246.3L580.6 246.1L581.7 247.7L582.8 248.3L583.3 250.3L583.7 252.4L582 254.6L582.3 257.7L584.6 257.3L585.5 259.7L587 260.2L586.7 262.4L588.5 263.4L589.6 263.8L591.1 263.1M591.1 263.1L591.4 264.2L591.7 264.8L592.9 264.9L592.1 261.9L593.2 261.5M593.2 261.5L594.3 260.8L596.1 260.9L598.2 260.5L599.9 259.2L601.2 260.1L603.3 260.6L603.2 262.1L604.5 263.2L606.9 263.9M480.8 212.3L478.2 202.8L483.1 201.2L483.6 201.5L487.3 203.3L489.3 204.3L492 206.6L494.3 206.2L497.8 206L500.9 207.9L501.5 210.5L502.6 210.5L503.6 212.6L506.3 212.7L507.3 214L508 213.9L508.4 212.1L510.7 210.3L511.7 209.8M473.2 211.1L473.9 210.2L476.2 209.7L477.8 210.4L479.8 212.4L480.8 212.3M511.7 209.8L511.8 208.7L513.1 208.3L516.8 209.2L516.6 207.7L517.6 207.1L521 208.2L521.7 207.9L525.2 208L528.4 208.3L529.7 209.2L531.2 209.6M480.8 212.3L483.2 212.3L482.5 210.9L484.1 210.1L485.4 208.6L488.7 209.9L489.4 212L490.4 212.5L492.6 212.4L493.5 212.9L495.2 215.6L498.1 217.3L499.8 218.6L502.4 219.8L505.5 221L505.8 222.6M505.8 222.6L507 222.6L508.8 223.1M508.8 223.1L509.3 220.5L508.4 218.5L506.6 217.9L506.9 216.8L508.7 216.9L509.3 215.4L509.5 213.8L512.1 213.2L512.1 214.4L512.6 215.1L513.4 215.1M513.4 215.1L515.1 215.3L517.3 213.4L514.3 212.1L513 212.7L511.2 211.7L512.4 210.1L511.7 209.8M513.4 215.1L512.9 215.8L510.5 215.4L510.7 216.9L512.9 216.7L515.8 217.6L519.7 217.2M508.8 223.1L509.6 223.4L510.9 222.6L511.8 223.1L512.1 221.9L513.4 222L513.7 221.6L513.6 220.5L514.3 219.6L515.6 220.2L515.6 221L516.3 221.1L516.7 223.3L517.7 224.2L518.3 223.6L519.2 223.4L520.3 222.2L521.8 222.4L524 222.4M505.8 222.6L505.2 222.5L504 221.8L503.9 222.7L502.2 223.2L502.2 225.3L501.2 226.1L499.6 226.5L499.4 227.7L497.8 228L495.4 227M495.4 227L494.7 224.8L493.1 224.7L490.1 222.4L488.3 222.1L485.7 220.8L484.1 220.6L483.2 221L481.8 221L480.6 222.5L478.8 223M495.4 227L495.2 230.3L495 232.2L496 232.6L495.3 234L496.4 236.1L496.9 237.7L498.7 238.2L499.1 239.8L497.5 242.2M497.5 242.2L498.8 243.6L500 245.2L502.3 246.3L502.7 248.6L503.8 249L504.2 250.2L501.1 251.6L500.6 254.6M497.5 242.2L501.4 243.6L503.6 243.2L505 243.5L505.3 242.9L506.9 243.2L509.6 242.1L509.3 239.8L510.3 238.4L511.9 238.4L512 237.6L513.6 237.3L514.5 237.5L515.2 236.8L514.7 235.2L515.3 233.6L516.6 233L515.3 231.3L517.4 231.3L517.8 230.4L517.5 229.4L518.3 228.3L517.7 227L516.9 225.9L517.9 224.8L520.1 224.2L522.5 223.9L523.5 223.4L524.6 223.2M516.1 258.3L517.4 256.5L522.3 256.5L521.6 254.3L520.1 253L519.6 251L517.9 249.8L520 247L522.6 247.2L524.4 244.5L525.3 241.8L526.9 239.2L526.5 237.4L528.1 235.8L526 234.6L524.8 232.8L523.5 230.5L524.3 229.4L527.7 230L530.1 229.6L531.6 227.4M542.2 241.3L541 242.5L540.7 244.9L543 245.9L545.4 247.2L548.6 248.7L551.7 249L553.2 250.3L555 250.6L557.8 251.2L559.7 251.2L559.7 250.1L559.1 248.4L559.1 247.3M560.9 248.8L561.1 249.4L563.3 250.4L564.6 249.9L566.5 250.1L568.3 250L568.2 248.4L567.1 247.6M563.7 262.5L563 260.4L561.9 258.4L562.1 256.9L560.6 256.2L561 255.2L562.2 254.2L560.3 252.8L560.8 251.1L562.8 252.2L563.9 252.3L564.4 254.1L566.6 254.5L570.1 254.9L569.1 257.1L568.4 257.3L567.9 258.8L569.4 260.1L569.5 258.5L570.1 258.4M570.1 258.4L571.9 262.6L572.1 264.5L571.3 264.1L571.7 266.2M570.1 258.4L572.6 257.3L574.4 257.9L575.1 255.7L575 254.4L575.8 252.2L575.4 250.7L577.9 248.9L579.6 249.4L579.1 247.8L579.8 247.3L579.4 246.3M591.1 263.1L589.7 265.9L589.4 266.8M589.4 266.8L588.2 267.4L587 268.6L585.4 268.7L584.8 271.5L584 272L585.4 274.3L587.1 276.2L588.2 277.9L587.7 280.2L586.9 280.7L587.6 282L589.4 284L589.8 285.5L589.9 286.7L591 289.1L589.9 291.6L589 294.2M589.4 266.8L590.5 267.6L590.9 269.2L592.4 269.3L592.3 272.1L592.7 274.4L594.8 272.9L595.6 273.3L596.9 273.3L597.2 272.3L599 272.5L601 274.6L601.5 277.2L603.7 279.5L603.9 281.7L603.3 282.9M603.3 282.9L601.1 282.5L598.2 283L596.9 285.2L597.8 288.3M603.3 282.9L605.2 283.9L606.1 282.1L608.2 283.1M608.2 283.1L608.4 280.5L607.5 278.6L605.5 276.8L603.8 274.5L601.4 271.4L598.5 269.8L598.9 268.9L600.3 268.2L599.1 265.9L596.2 265.9L594.8 263.5L593.2 261.5M608.2 283.1L609 287.9L605.3 290L606.5 291.6L604.1 291.7L602.2 292.8M593.1 303.3L593.5 302.8L595.4 304L595.7 305.3L597.2 305L597.9 303.9M615.7 314.9L616.1 316.7L617.7 318.2L619.2 317.6L620.6 317.8L622 316.5L623.1 316.3L625.3 317L627.1 316.5L628.2 312.8L629.1 311.9L629.8 308.9L632.4 308.9L634.4 309.4M625.9 308.4L627 309.7L627.5 308.8L628.6 308.9L628.6 307.2L628.7 306M650 343.4L650.2 344L650.2 344.7" fill="none" stroke-opacity="0.75"/>
<g id="africa">
<path d="M323.9 265.3L324.4 264.4L324.1 263L325 262.3L325.8 260.9L325.7 260L326.5 258.2L327.8 256.5L328.6 256.1L329.2 254.6L329.3 253.2L330.2 251.6L331.7 250.6L332.6 248.8L343.1 248.8L343 252.3L335.6 252.2L335.5 258.9L334 259.4L333.2 260.3L332.9 261.4L333.1 264.4L324.3 264.4Z" fill="url(#hatch2)" stroke="#bdbdbd" stroke-opacity="1"/>
<path d="M332.6 248.8L333.1 247.9L334.4 246.9L336.4 246.6L338.3 244.8L339.4 244.1L341.3 242L340.8 238.7L341.7 236.4L342.1 235.1L343.5 233.3L345.8 232.1L347.4 231L348.9 228.3L349.6 226.7L350.8 226.4L351.2 226.7L352.5 227.8L354.6 227.7L356.1 227.9L356.8 228.2L357.8 228.3L358.6 229.9L358.7 231.5L359.4 234.3L360 234.9L359.6 235.9L356.7 236.3L355.7 237.3L354.5 237.5L354.3 239.4L351.7 240.5L350.9 241.8L349.1 242.5L346.8 242.9L343.2 244.8L343.1 248.8Z" fill="#fef0d9"/>
<path d="M357.8 228.3L359.9 226.9L362.2 226.4L363.6 225.3L365.7 224.5L369.3 224.1L372.9 223.8L374 224.2L376 223.2L378.3 223.2L379.2 223.8L380.7 223.6L380.3 225L380.7 227.5L380.2 229.6L378.9 231.1L379.2 233L381 234.6L381.1 235.2L382.4 236.3L383.5 241L384.3 243.3L384.4 244.5L384.1 246.6L384.3 247.8L384 249.3L384.3 250.9L383.4 252L384.7 253.9L384.9 255L385.7 256.5L386.7 256L388.5 257.2L389.5 258.8L381.9 263.8L375.4 269L372.2 270.1L369.7 270.4L369.6 268.7L368.6 268.3L367.2 267.6L366.6 266.3L359 260.6L351.6 254.9L343.1 248.8L343.2 244.8L346.8 242.9L349.1 242.5L350.9 241.8L351.7 240.5L354.3 239.4L354.5 237.5L355.7 237.3L356.7 236.3L359.6 235.9L360 234.9L359.4 234.3L358.7 231.5L358.6 229.9Z" fill="#fef0d9"/>
<path d="M380.7 223.6L383 222.6L384.5 222.9L384.5 224.2L386.3 223.3L386.5 223.8L385.4 225L385.5 226.2L386.2 226.9L386 229.2L384.7 230.5L385.1 231.9L386.3 231.9L386.8 233.2L387.7 233.6L387.6 235.6L386.6 236.3L385.9 237.2L384.5 238.2L384.7 239.3L384.6 240.4L383.5 241L382.4 236.3L381.1 235.2L381 234.6L379.2 233L378.9 231.1L380.2 229.6L380.7 227.5L380.3 225Z" fill="#fef0d9"/>
<path d="M387.7 233.6L390.3 234.5L391.2 234.3L393.1 234.7L396 235.8L397.2 238.2L399.2 238.7L402.3 239.8L404.8 241.1L405.8 240.4L406.8 239.2L406.2 237.2L406.8 235.9L408.3 234.7L409.8 234.4L412.8 234.9L413.6 236.1L414.5 236.1L415.2 236.5L417.4 236.8L418 237.7L417.3 238.9L417.7 240.1L417.2 241.7L418 243.8L418.6 253.1L419 262.7L419.2 267.9L416.9 267.9L417 269.2L416.6 269L407.4 264L398.2 259L396 260.4L394.4 261.4L393.1 260L389.5 258.8L388.5 257.2L386.7 256L385.7 256.5L384.9 255L384.7 253.9L383.4 252L384.3 250.9L384 249.3L384.3 247.8L384.1 246.6L384.4 244.5L384.3 243.3L383.5 241L384.6 240.4L384.7 239.3L384.5 238.2L385.9 237.2L386.6 236.3L387.6 235.6Z" fill="#fef0d9"/>
<path d="M418 237.7L420.9 237.6L423.1 238.3L425.4 239.1L426.4 239.5L428 238.7L428.9 237.9L430.8 237.7L432.4 238L433.1 239.3L433.6 238.5L435.4 239.1L437.1 239.2L438.2 238.6L439 240.7L440 243.1L439.5 244.1L439.2 246.1L438.7 247.5L438.2 247.9L437.4 247.1L436.3 245.9L435.7 244.7L434.9 242.8L434.4 242.2L434.2 242.4L435.3 245.2L436.9 247.8L438.9 251.9L439.8 253.3L440.7 254.8L442.9 257.6L442.4 258.1L442.6 259.8L445.4 262.2L445.8 262.7L436.8 262.7L428.1 262.7L419 262.7L418.6 253.1L418 243.8L417.2 241.7L417.7 240.1L417.3 238.9Z" fill="#fef0d9"/>
<path d="M324.9 278L324.8 276.6L325.4 275.3L325.8 272.9L325.6 270.3L325.3 269L325.6 267.7L325 266.4L323.9 265.3L324.3 264.4L333.1 264.4L332.9 261.4L333.2 260.3L334 259.4L335.5 258.9L335.6 252.2L343 252.3L343.1 248.8L351.6 254.9L348 255L349 266.2L350 277.5L350.4 277.9L349.8 279.7L340.7 279.7L340.3 280.3L339.4 280.1L338.2 280.6L336.6 279.9L335.8 280L335.4 281.5L334.7 282L333.2 280.2L331.8 278.3L330.3 277.6L329.2 276.8L328 276.8L326.9 277.4L325.7 277.2Z" fill="#fc8d59"/>
<path d="M334.7 282L335.4 281.5L335.8 280L336.6 279.9L338.2 280.6L339.4 280.1L340.3 280.3L340.7 279.7L349.8 279.7L350.4 277.9L350 277.5L349 266.2L348 255L351.6 254.9L359 260.6L366.6 266.3L367.2 267.6L368.6 268.3L369.6 268.7L369.7 270.4L372.2 270.1L372.2 276.2L371 277.9L370.8 279.5L368.8 279.9L365.7 280.2L364.8 281.1L363.3 281.2L361.9 281.2L361.3 280.7L360.1 281.1L357.9 282.1L357.5 283L355.7 284.1L355.4 284.8L354.4 285.3L353.3 285L352.7 285.6L352.3 287.4L350.5 289.6L350.6 290.5L349.9 291.6L350.1 293.1L349.1 293.5L348.6 293.8L348.2 292.7L347.6 293L347.2 292.9L346.8 293.7L345 293.7L344.3 293.3L344 293.5L343.3 292.8L343.5 292L343.2 291.7L342.7 291.9L342.8 291.1L343.3 290.4L342.3 289.3L342.1 288.6L341.6 288L341.1 288L340.6 288.3L339.8 288.7L339.2 289.2L338.2 289L337.6 288.4L337.2 288.3L336.6 288.6L336.2 288.6L336.1 287.7L336.2 286.9L336 285.9L335.2 285.1L334.8 283.6Z" fill="#d7301f"/>
<path d="M324.2 284.7L323.3 282.6L322.2 281.7L323.2 281.2L324.4 279.4L324.9 278L325.7 277.2L326.9 277.4L328 276.8L329.2 276.8L330.3 277.6L331.8 278.3L333.2 280.2L334.7 282L334.8 283.6L335.2 285.1L336 285.9L336.2 286.9L336.1 287.7L335.8 287.8L334.5 287.6L334.3 287.9L333.8 288L332.2 287.3L331.1 287.3L326.9 287.2L326.2 287.5L325.5 287.4L324.3 287.8L323.9 285.8L326 285.9L326.6 285.5L327 285.5L327.8 284.9L328.8 285.4L329.8 285.5L330.8 284.9L330.3 284.2L329.6 284.6L328.9 284.6L328 283.9L327.2 284L326.7 284.6Z" fill="#fc8d59"/>
<path d="M323.9 285.8L324.2 284.7L326.7 284.6L327.2 284L328 283.9L328.9 284.6L329.6 284.6L330.3 284.2L330.8 284.9L329.8 285.5L328.8 285.4L327.8 284.9L327 285.5L326.6 285.5L326 285.9Z" fill="#fc8d59"/>
<path d="M327.8 291.3L326.6 290.2L325.6 290.1L325.1 289.3L325.1 288.9L324.4 288.4L324.3 287.8L325.5 287.4L326.2 287.5L326.9 287.2L331.1 287.3L331 288.2L330.8 288.5L331 289.3L330.6 289.7L330.1 289.7L329.5 290.1L328.8 290.1Z" fill="#ef6548"/>
<path d="M332 296.9L331 295.4L330.2 294.3L329.6 294L329 293.5L328.8 292.3L328.4 291.8L327.8 291.3L328.8 290.1L329.5 290.1L330.1 289.7L330.6 289.7L331 289.3L330.8 288.5L331 288.2L331.1 287.3L332.2 287.3L333.8 288L334.3 287.9L334.5 287.6L335.8 287.8L336.1 287.7L336.2 288.6L336.6 288.6L337.2 288.3L337.6 288.4L338.2 289L339.2 289.2L339.8 288.7L340.6 288.3L341.1 288L341.6 288L342.1 288.6L342.3 289.3L343.3 290.4L342.8 291.1L342.7 291.9L343.2 291.7L343.5 292L343.3 292.8L344 293.5L343.6 293.7L343.4 294.6L343.9 295.7L344.5 297.8L343.6 298.1L343.4 298.5L343.6 299L343.4 300.1L343.1 300.1L342.4 300L341.9 301.1L341.3 301.1L340.9 300.5L341 299.5L340 297.9L339.4 298.2L339 298.2L338.3 298.4L338.4 297.4L338 296.7L338.1 296L337.6 294.9L336.9 293.9L335.1 293.9L334.6 294.4L333.9 294.5L333.5 295.1L333.3 295.8Z" fill="#d7301f"/>
<path d="M336.1 302.5L335.5 302.3L333.9 301.2L332.7 299.8L332.3 298.9L332 296.9L333.3 295.8L333.5 295.1L333.9 294.5L334.6 294.4L335.1 293.9L336.9 293.9L337.6 294.9L338.1 296L338 296.7L338.4 297.4L338.3 298.4L339 298.2L337.9 299.4L336.8 300.9L336.7 301.6Z" fill="#990000"/>
<path d="M344.7 308.8L344.1 308.8L341.7 307.6L339.7 305.6L337.7 304.1L336.1 302.5L336.7 301.6L336.8 300.9L337.9 299.4L339 298.2L339.4 298.2L340 297.9L341 299.5L340.9 300.5L341.3 301.1L341.9 301.1L342.4 300L343.1 300.1L342.9 300.9L343.2 302.1L342.7 303.3L343.3 304L344.1 304.2L345.1 305.3L345.1 306.3L344.9 306.6Z" fill="#d7301f"/>
<path d="M355.9 307.2L354.9 307.2L353.3 306.7L351.8 306.7L349.1 307.2L347.4 307.9L345.2 308.9L344.7 308.8L344.9 306.6L345.1 306.3L345.1 305.3L344.1 304.2L343.3 304L342.7 303.3L343.2 302.1L342.9 300.9L343.1 300.1L343.4 300.1L343.6 299L343.4 298.5L343.6 298.1L344.5 297.8L343.9 295.7L343.4 294.6L343.6 293.7L344 293.5L344.3 293.3L345 293.7L346.8 293.7L347.2 292.9L347.6 293L348.2 292.7L348.6 293.8L349.1 293.5L350.1 293.1L351.1 293.7L351.5 294.5L352.5 295.1L353.4 294.4L354.4 294.3L356 295L356.6 298.7L355.6 300.9L355 303.9L356 306.1Z" fill="#ef6548"/>
<path d="M363.3 281.2L361.9 281.2L361.3 280.7L360.1 281.1L357.9 282.1L357.5 283L355.7 284.1L355.4 284.8L354.4 285.3L353.3 285L352.7 285.6L352.3 287.4L350.5 289.6L350.6 290.5L349.9 291.6L350.1 293.1L351.1 293.7L351.5 294.5L352.5 295.1L353.4 294.4L354.4 294.3L356 295L355.7 293L355.7 291.6L359.7 291.4L360.8 291.6L361.5 291.2L362.5 291.4L364.6 291.4L365.3 291.2L365.8 290L367 289.8L367.4 289L367.5 287.2L364.8 286.6L364.8 285.3L363.5 283.6L363.2 282.5Z" fill="#d7301f"/>
<path d="M364.9 304.7L361.3 306.2L360.1 307.1L358 307.9L355.9 307.2L356 306.1L355 303.9L355.6 300.9L356.6 298.7L356 295L355.7 293L355.7 291.6L359.7 291.4L360.8 291.6L361.5 291.2L362.5 291.4L362.4 292.2L363.4 293.6L363.4 295.4L363.6 297.5L364.1 298.5L363.6 300.8L363.8 302.1L364.4 303.8Z" fill="#ef6548"/>
<path d="M366.8 304.1L364.9 304.7L364.4 303.8L363.8 302.1L363.6 300.8L364.1 298.5L363.6 297.5L363.4 295.4L363.4 293.6L362.4 292.2L362.5 291.4L364.6 291.4L364.3 292.8L365 293.6L365.8 294.5L365.9 295.8L366.3 296.3L366.2 302.3Z" fill="#ef6548"/>
<path d="M368.7 303.8L366.8 304.1L366.2 302.3L366.3 296.3L365.9 295.8L365.8 294.5L365 293.6L364.3 292.8L364.6 291.4L365.3 291.2L365.8 290L367 289.8L367.4 289L368.2 288.2L369 288.2L370.8 289.7L370.7 290.6L371.2 292.2L370.8 293.2L371 293.9L369.9 295.5L369.2 296.3L368.8 298L368.8 299.6Z" fill="#d7301f"/>
<path d="M363.3 281.2L364.8 281.1L365.7 280.2L368.8 279.9L370.8 279.5L371 277.9L372.2 276.2L372.2 270.1L375.4 269L381.9 263.8L389.5 258.8L393.1 260L394.4 261.4L396 260.4L396.7 264.5L397.5 265.2L397.6 266L398.5 266.9L398.1 268L397.3 273.3L397.3 276.7L394.4 279.2L393.5 282.6L393.7 284.3L393 284.8L392.5 284.6L390.7 286.1L388.9 285.4L387.7 285.2L387 285.6L385.7 285.5L384.3 286.6L383.2 286.7L380.4 285.3L379.3 286L378.1 285.9L377.3 284.9L375 283.9L372.5 284.3L371.9 284.8L371.6 286.3L370.9 287.4L370.8 289.7L369 288.2L368.2 288.2L367.4 289L367.5 287.2L364.8 286.6L364.8 285.3L363.5 283.6L363.2 282.5Z" fill="#990000"/>
<path d="M382.1 307.7L379.7 308.7L378.8 308.5L378 309.1L376.1 309.1L374.9 307.4L374.1 305.5L372.5 303.8L370.7 303.8L368.7 303.8L368.8 299.6L368.8 298L369.2 296.3L369.9 295.5L371 293.9L370.8 293.2L371.2 292.2L370.7 290.6L370.8 289.7L370.9 287.4L371.6 286.3L371.9 284.8L372.5 284.3L375 283.9L377.3 284.9L378.1 285.9L379.3 286L380.4 285.3L383.2 286.7L384.3 286.6L385.7 285.5L387 285.6L387.7 285.2L388.9 285.4L390.7 286.1L392.5 284.6L393 284.8L393.7 284.3L394.8 286L395 287.6L395.9 288.6L395.7 289.1L395.6 290L393.7 292L393.1 293.6L392.8 295L392.3 295.6L391.8 297.4L390.6 298.5L390.3 299.8L389.8 300.9L389.6 302L388 302.8L386.7 301.7L385.8 301.8L384.4 303.3L383.8 303.4L382.7 305.9Z" fill="#d7301f"/>
<path d="M396 260.4L398.2 259L407.4 264L416.6 269L417 269.2L417.1 279.4L415.1 279.2L414.1 281.1L413.5 282.7L414 283.4L413.3 284.2L413.6 285.3L413 286.3L412.8 287.3L413.6 287.1L414.1 288.2L414.2 289.7L415 290.5L415 291.1L413.5 291.5L412.4 292.6L410.8 295.4L408.6 296.6L406.4 296.5L405.8 296.7L406 297.6L404.8 298.6L403.8 299.6L401 300.6L400.4 300L400 299.9L399.6 300.6L397.7 300.8L398 300.1L397.3 298.3L397 297.2L395.9 296.8L394.6 295.2L395.1 294L396.1 294.3L396.8 294.1L398.1 294.1L396.8 291.7L396.8 290L396.7 288.3L395.7 286.6L394.8 286L393.7 284.3L393.5 282.6L394.4 279.2L397.3 276.7L397.3 273.3L398.1 268L398.5 266.9L397.6 266L397.5 265.2L396.7 264.5Z" fill="#d7301f"/>
<path d="M445.8 262.7L446.7 265.3L446.2 265.7L446.7 268.4L447.7 271.6L448.6 272.2L449.9 273.1L448.8 274.6L447.2 275.1L446.5 275.9L446.4 277.6L445.5 281.5L445.8 282.5L445.6 284.8L444.7 287.3L443.4 288.6L442.5 290.6L442.3 291.7L441.2 292.4L440.6 295.5L440.3 295.4L440.3 294.1L440 293.2L438.8 292.2L438.5 290.3L438.7 288.4L437.6 288.2L437.4 288.8L436.1 288.9L436.6 289.7L436.9 291.2L435.7 292.7L434.6 294.6L433.4 294.8L431.4 293.3L430.6 293.9L430.4 294.6L429.2 295.1L429.1 295.6L426.8 295.6L426.5 295.1L424.8 295L424 295.4L423.4 295.2L422.2 293.7L421.8 293L420.1 293.4L419.5 294.6L419 296.9L418.2 297.4L417.5 297.7L417.3 297.5L416.5 296.8L416.3 296L416.7 294.9L416.6 293.8L415.3 292.2L415 291.1L415 290.5L414.2 289.7L414.1 288.2L413.6 287.1L412.8 287.3L413 286.3L413.6 285.3L413.3 284.2L414 283.4L413.5 282.7L414.1 281.1L415.1 279.2L417.1 279.4L417 269.2L416.9 267.9L419.2 267.9L419 262.7L428.1 262.7L436.8 262.7Z" fill="#fc8d59"/>
<path d="M449.9 273.1L451.4 276.2L452.2 278.6L453.5 279.8L456.7 282.3L458 283.8L459.4 285.3L460.1 286.2L461.3 287L460.6 287.6L459.6 287.4L458.8 286.6L457.8 285L456.7 284.2L456.1 283.3L454.1 282.2L452.5 282.2L451.9 281.7L450.6 282.3L449.2 281.1L448.5 283.1L445.8 282.5L445.5 281.5L446.4 277.6L446.5 275.9L447.2 275.1L448.8 274.6Z" fill="#fdbb84"/>
<path d="M461.3 287L461.8 287.8L461.8 288.9L460.5 289.5L461.5 290.2L461.1 291.5L460.7 291.6L460.2 291.2L459.7 291.4L458.4 291.3L458.3 290.5L458.1 289.8L458.8 288.6L459.6 287.4L460.6 287.6Z" fill="#fc8d59"/>
<path d="M445.8 282.5L448.5 283.1L449.2 281.1L450.6 282.3L451.9 281.7L452.5 282.2L454.1 282.2L456.1 283.3L456.7 284.2L457.8 285L458.8 286.6L459.6 287.4L458.8 288.6L458.1 289.8L458.3 290.5L458.4 291.3L459.7 291.4L460.2 291.2L460.7 291.6L460.3 292.6L461.2 294L462.1 295.3L463 296.2L470.6 299.3L472.5 299.3L466.2 307.1L463.2 307.2L461.2 309.1L459.7 309.1L459.1 310L457.5 310L456.5 309.1L454.4 310.2L453.8 311.3L452.2 311.1L451.7 310.7L451.2 310.8L450.5 310.8L447.5 308.6L445.9 308.6L445.1 307.7L445.1 306.2L443.9 305.8L442.5 303L441.4 302.3L441 301.3L439.8 300L438.4 299.9L439.1 298.4L440.4 298.3L440.7 297.5L440.6 295.5L441.2 292.4L442.3 291.7L442.5 290.6L443.4 288.6L444.7 287.3L445.6 284.8Z" fill="#fdbb84"/>
<path d="M461.5 290.2L462.3 290.7L462.8 291.8L463.9 292.9L465 292.9L467.2 292.2L469.6 291.9L471.6 291.1L472.8 290.9L473.6 290.5L474.9 290.4L475.6 290.3L476.6 289.9L477.8 289.7L478.9 288.8L479.7 288.8L479.8 289.5L479.7 291L479.8 292.4L479.3 293.3L478.8 296.2L477.8 299.1L476.4 302.4L474.5 306.2L472.6 309.2L470 312.7L467.7 314.8L464.3 317.5L462.1 319.4L459.6 322.6L459 324L458.5 324.6L457.1 322.4L457.1 312.9L459.1 310L459.7 309.1L461.2 309.1L463.2 307.2L466.2 307.1L472.5 299.3L470.6 299.3L463 296.2L462.1 295.3L461.2 294L460.3 292.6L460.7 291.6L461.1 291.5Z" fill="#fc8d59"/>
<path d="M458.5 324.6L456.9 325.6L456.3 326.7L455.4 326.9L455.1 328.8L454.3 329.8L453.8 331.6L452.9 332.4L449.6 329.8L449.5 328.3L441.2 323L440.8 322.7L440.8 319.9L441.4 318.8L442.5 317.1L443.4 315.2L442.4 312.2L442.1 310.9L440.9 309.1L442.3 307.5L443.9 305.8L445.1 306.2L445.1 307.7L445.9 308.6L447.5 308.6L450.5 310.8L451.2 310.8L451.7 310.7L452.2 311.1L453.8 311.3L454.4 310.2L456.5 309.1L457.5 310L459.1 310L457.1 312.9L457.1 322.4Z" fill="#fc8d59"/>
<path d="M417.5 297.7L418.2 297.4L419 296.9L419.5 294.6L420.1 293.4L421.8 293L422.2 293.7L423.4 295.2L424 295.4L424.8 295L426.5 295.1L426.8 295.6L429.1 295.6L429.2 295.1L430.4 294.6L430.6 293.9L431.4 293.3L433.4 294.8L434.6 294.6L435.7 292.7L436.9 291.2L436.6 289.7L436.1 288.9L437.4 288.8L437.6 288.2L438.7 288.4L438.5 290.3L438.8 292.2L440 293.2L440.3 294.1L440.3 295.4L440.6 295.5L440.7 297.5L440.4 298.3L439.1 298.4L438.4 299.9L439.8 300L441 301.3L441.4 302.3L442.5 303L443.9 305.8L442.3 307.5L440.9 309.1L439.5 310.3L437.9 310.3L436.1 310.9L434.6 310.3L433.6 311L431.6 309.3L431 308.2L429.8 308.7L428.7 308.5L428.1 309L427 308.7L425.6 306.5L425.2 305.7L423.5 304.6L422.9 303.1L421.9 302L420.3 300.6L420.3 299.7L419 298.7Z" fill="#d7301f"/>
<path d="M397.7 300.8L399.6 300.6L400 299.9L400.4 300L401 300.6L403.8 299.6L404.8 298.6L406 297.6L405.8 296.7L406.4 296.5L408.6 296.6L410.8 295.4L412.4 292.6L413.5 291.5L415 291.1L415.3 292.2L416.6 293.8L416.7 294.9L416.3 296L416.5 296.8L417.3 297.5L417.5 297.7L419 298.7L420.3 299.7L420.3 300.6L421.9 302L422.9 303.1L423.5 304.6L425.2 305.7L425.6 306.5L424.8 306.8L423.4 306.7L421.6 306.5L420.8 306.7L420.4 307.3L419.7 307.4L418.8 306.8L416.2 308.1L415.2 307.9L414.9 308.1L414.2 309.7L412.5 309.2L410.8 308.9L409.3 307.9L407.4 307.1L406.2 307.9L405.3 309.2L405.1 311.1L403.6 310.9L402 310.4L400.7 311.8L399.5 314.3L399.1 312.3L398.1 311.5L397.2 310.1L397 309.2L395.9 307.8L396.1 307.1L395.8 306L396 303.9L396.6 303.4Z" fill="#d7301f"/>
<path d="M384.8 314.2L385.1 312.2L384.2 310.4L383.1 310L382.7 308.8L382.1 308.4L382.1 307.7L382.7 305.9L383.8 303.4L384.4 303.3L385.8 301.8L386.7 301.7L388 302.8L389.6 302L389.8 300.9L390.3 299.8L390.6 298.5L391.8 297.4L392.3 295.6L392.8 295L393.1 293.6L393.7 292L395.6 290L395.7 289.1L395.9 288.6L395 287.6L394.8 286L395.7 286.6L396.7 288.3L396.8 290L396.8 291.7L398.1 294.1L396.8 294.1L396.1 294.3L395.1 294L394.6 295.2L395.9 296.8L397 297.2L397.3 298.3L398 300.1L397.7 300.8L396.6 303.4L396 303.9L395.8 306L396.1 307.1L395.9 307.8L397 309.2L397.2 310.1L398.1 311.5L399.1 312.3L399.5 314.3L399.3 315.7L397.5 315.1L395.6 314.4L392.7 314.3L392.4 314.1L391 314.5L389.6 314.1L388.5 314.3Z" fill="#ef6548"/>
<path d="M384.4 317.6L384 317.2L384.8 314.2L388.5 314.3L388.6 317.4L385.2 317.4Z" fill="#ef6548"/>
<path d="M388.1 330.6L385.7 328L384.2 325.8L382.8 323.1L382.9 322.2L383.4 321.4L384 319.5L384.4 317.6L385.2 317.4L388.6 317.4L388.5 314.3L389.6 314.1L391 314.5L392.4 314.1L392.7 314.3L392.5 315.4L393.2 316.8L394.9 316.5L395.5 317.1L394.5 320.1L395.6 321.6L395.8 323.7L395.5 325.4L394.8 326.7L392.8 326.6L391.5 325.3L391.4 326.4L389.8 326.8L389 327.4L389.9 329.2Z" fill="#fc8d59"/>
<path d="M390 333.4L388.1 330.6L389.9 329.2L389 327.4L389.8 326.8L391.4 326.4L391.5 325.3L392.8 326.6L394.8 326.7L395.5 325.4L395.8 323.7L395.6 321.6L394.5 320.1L395.5 317.1L394.9 316.5L393.2 316.8L392.5 315.4L392.7 314.3L395.6 314.4L397.5 315.1L399.3 315.7L399.5 314.3L400.7 311.8L402 310.4L403.6 310.9L405.1 311.1L404.9 312.6L404.3 314L403.8 315.7L403.5 318L403.7 319.4L403.3 320.4L403.2 321.3L403 322.1L401.5 323.4L400.4 324.7L399.4 327.3L399.4 329.5L398.8 330.3L397.5 331.5L396.1 333.2L395.3 332.7L395.1 332L393.9 332L393.1 333L392.5 332.7L391.6 331.8L390.9 332.3Z" fill="#ef6548"/>
<path d="M390.6 335.3L390 333.4L390.9 332.3L391.6 331.8L392.5 332.7L391.6 333.2L391.3 333.9L391.2 335Z" fill="#d7301f"/>
<path d="M390.9 336.1L390.6 335.3L391.2 335L391.3 333.9L391.6 333.2L392.5 332.7L393.1 333L393.9 332L395.1 332L395.3 332.7L396.1 333.2L397.5 331.5L398.8 330.3L399.4 329.5L399.4 327.3L400.4 324.7L401.5 323.4L403 322.1L403.2 321.3L403.3 320.4L403.7 319.4L403.5 318L403.8 315.7L404.3 314L404.9 312.6L405.1 311.1L405.3 309.2L406.2 307.9L407.4 307.1L409.3 307.9L410.8 308.9L412.5 309.2L414.2 309.7L414.9 308.1L415.2 307.9L416.2 308.1L418.8 306.8L419.7 307.4L420.4 307.3L420.8 306.7L421.6 306.5L423.4 306.7L424.8 306.8L425.6 306.5L427 308.7L428.1 309L428.7 308.5L429.8 308.7L431 308.2L431.6 309.3L433.6 311L433.5 314.1L434.5 314.4L433.7 315.4L432.8 316.1L432 317.4L431.5 318.6L431.4 320.7L430.8 321.7L430.8 323.7L430.1 324.4L430 326L429.7 326.2L429.5 327.6L430.1 328.8L430.2 332L430.6 334.4L430.3 335.7L430.7 337.2L432.1 338.7L433.2 342L432.4 341.7L429.2 342.2L428.6 342.5L427.9 344.1L428.4 345.3L428 348.4L427.6 351L428.2 351.5L429.8 352.5L430.4 352L430.5 354.9L428.8 354.8L427.9 353.4L427.1 352.3L425.3 351.9L424.8 350.5L423.4 351.4L421.6 351L420.9 349.8L419.4 349.6L418.3 349.6L418.2 348.8L417.4 348.8L416.4 348.6L414.9 349L413.9 348.9L413.4 349.2L413.6 346.1L412.8 345.1L412.6 343.5L413 341.9L412.6 340.9L412.5 339.3L409.7 339.3L410 338.3L408.8 338.3L408.7 338.8L407.2 338.9L406.6 340.4L406.3 341.1L405 340.7L404.2 341.1L402.7 341.3L401.9 339.9L401.3 339.1L400.7 337.5L400.1 335.6L393.3 335.5L392.5 335.8L391.9 335.8Z" fill="#d7301f"/>
<path d="M440.9 309.1L439.5 310.3L437.9 310.3L436.1 310.9L434.6 310.3L433.6 311L433.5 314.1L434.5 314.4L433.7 315.4L432.8 316.1L432 317.4L431.5 318.6L431.4 320.7L430.8 321.7L430.8 323.7L431.3 324L432.7 323.2L433.5 322.8L436.1 322.9L440.8 322.7L440.8 319.9L441.4 318.8L442.5 317.1L443.4 315.2L442.4 312.2L442.1 310.9Z" fill="#ef6548"/>
<path d="M432.7 323.2L431.3 324L430.8 323.7L430.1 324.4L430 326L429.7 326.2L429.5 327.6L430.9 327.8L431.6 326.3L432.8 326.5L433.5 326.2L433.7 324.6Z" fill="#fc8d59"/>
<path d="M432.8 326.5L431.6 326.3L430.9 327.8L429.5 327.6L430.1 328.8L430.2 332L431.1 331.8L432 330.9L432.9 329.5L433.5 329L433.4 328.1L433 327.5Z" fill="#ef6548"/>
<path d="M452.9 332.4L451.8 335.6L451.9 337.1L453.4 338.1L453.4 338.8L452.7 340.3L452.8 341.1L452.7 342.4L453.4 344L454.3 346.6L455.1 347.2L453.3 348.7L450.7 349.7L449.3 349.7L448.5 350.4L446.9 350.5L446.3 350.8L443.5 350.1L441.8 350.3L441.3 346.8L440.5 345.5L440.1 344.8L437.8 344.3L436.5 343.5L435.1 343.1L434.2 342.7L433.2 342L432.1 338.7L430.7 337.2L430.3 335.7L430.6 334.4L430.2 332L431.1 331.8L432 330.9L432.9 329.5L433.5 329L433.4 328.1L433 327.5L432.8 326.5L433.5 326.2L433.7 324.6L432.7 323.2L433.5 322.8L436.1 322.9L440.8 322.7L441.2 323L449.5 328.3L449.6 329.8Z" fill="#ef6548"/>
<path d="M389.2 365.4L389 363.8L389.4 361.5L390.2 359.1L390.4 358L391.1 355.6L391.7 354.5L393 352.8L393.8 351.7L394 349.7L393.9 348.2L393.3 347.3L392.7 345.7L392.1 344.2L392.2 343.6L393 342.6L392.3 340.1L391.8 338.3L390.7 336.6L390.9 336.1L391.9 335.8L392.5 335.8L393.3 335.5L400.1 335.6L400.7 337.5L401.3 339.1L401.9 339.9L402.7 341.3L404.2 341.1L405 340.7L406.3 341.1L406.6 340.4L407.2 338.9L408.7 338.8L408.8 338.3L410 338.3L409.7 339.3L412.5 339.3L412.6 340.9L413 341.9L412.6 343.5L412.8 345.1L413.6 346.1L413.4 349.2L413.9 348.9L414.9 349L416.4 348.6L417.4 348.8L417.6 349.6L417.3 350.8L417.7 352.1L417.4 353.1L417.5 353.9L412.8 353.9L412.5 362.2L413.9 364.4L415.4 366L411.2 367.1L405.7 366.7L404.1 365.4L394.9 365.6L394.5 365.7L393.2 364.6L391.7 364.5L390.4 364.9Z" fill="#d7301f"/>
<path d="M433.2 342L432.4 341.7L429.2 342.2L428.6 342.5L427.9 344.1L428.4 345.3L428 348.4L427.6 351L428.2 351.5L429.8 352.5L430.4 352L430.5 354.9L428.8 354.8L427.9 353.4L427.1 352.3L425.3 351.9L424.8 350.5L423.4 351.4L421.6 351L420.9 349.8L419.4 349.6L418.3 349.6L418.2 348.8L417.4 348.8L417.6 349.6L417.3 350.8L417.7 352.1L417.4 353.1L417.5 353.9L412.8 353.9L412.5 362.2L413.9 364.4L415.4 366L417.2 365.4L418.7 365.6L419.6 366.2L420 366.6L422.6 366.9L423.3 367.1L424 367.1L425.4 365.4L427.4 363.3L428.3 363L428.6 362.1L429.9 361.1L431.6 360.7L431.5 358.9L438.5 356.7L437.3 356L438.1 353.6L438.9 352.7L438.5 350.5L439 348.4L439.4 347.7L438.9 345.5L437.8 344.3L436.5 343.5L435.1 343.1L434.2 342.7Z" fill="#ef6548"/>
<path d="M437.8 344.3L440.1 344.8L440.5 345.5L441.3 346.8L441.8 350.3L441.1 352.3L441.6 355.7L442.4 355.7L443.2 356.5L444.1 358.4L444.2 361.8L443.2 362.3L442.4 364.1L441 362.5L440.9 360.7L441.4 359.4L441.3 358.4L440.4 357.7L439.8 358L438.5 356.7L437.3 356L438.1 353.6L438.9 352.7L438.5 350.5L439 348.4L439.4 347.7L438.9 345.5Z" fill="#ef6548"/>
<path d="M455.1 347.2L455.5 348.4L455.3 350.9L455.5 353.2L455.4 357.3L455.8 358.6L455 360.5L454 362.3L452.5 363.9L450.3 364.9L447.7 366.2L445 369L444.1 369.4L442.4 371.3L441.4 371.9L441.1 373.8L442.1 375.7L442.5 377.3L442.5 378.1L442.8 377.9L442.6 380.5L442.2 381.7L442.7 382.2L442.3 383.3L441.3 384.2L439.4 385.1L436.6 386.5L435.6 387.5L435.7 388.6L436.2 388.7L435.9 390.1L434.3 390.1L434.2 388.9L433.9 387.7L433.8 386.8L434.3 383.9L433.8 382L433 378.4L435.5 375.4L436.2 373.5L436.5 373.3L436.9 371.7L436.5 371L436.7 369L437.3 367.2L437.4 363.9L436.3 363L435.2 362.9L434.7 362.2L433.7 361.7L431.8 361.7L431.6 360.7L431.5 358.9L438.5 356.7L439.8 358L440.4 357.7L441.3 358.4L441.4 359.4L440.9 360.7L441 362.5L442.4 364.1L443.2 362.3L444.2 361.8L444.1 358.4L443.2 356.5L442.4 355.7L441.6 355.7L441.1 352.3L441.8 350.3L443.5 350.1L446.3 350.8L446.9 350.5L448.5 350.4L449.3 349.7L450.7 349.7L453.3 348.7Z" fill="#d7301f"/>
<path d="M420 366.6L422.6 366.9L423.3 367.1L424 367.1L425.4 365.4L427.4 363.3L428.3 363L428.6 362.1L429.9 361.1L431.6 360.7L431.8 361.7L433.7 361.7L434.7 362.2L435.2 362.9L436.3 363L437.4 363.9L437.3 367.2L436.7 369L436.5 371L436.9 371.7L436.5 373.3L436.2 373.5L435.5 375.4L433 378.4L431.8 378.1L431 378.4L429.9 378L429 377.9L427.6 376.8L425.9 376.4L425.3 374.7L425.3 373.8L424.4 373.5L421.9 370.6L421.3 369.1L420.8 368.7Z" fill="#fdbb84"/>
<path d="M407.2 384.9L407.5 377.3L409.7 377.2L410.1 367.9L411.8 367.8L415.3 366.9L416.1 368L417.6 367L418.3 367L419.6 366.4L420 366.6L420.8 368.7L421.3 369.1L421.9 370.6L424.4 373.5L425.3 373.8L425.3 374.7L425.9 376.4L427.6 376.8L429 377.9L425.7 379.9L423.6 381.8L422.8 383.6L422.1 384.6L420.8 384.8L420.4 386L420.1 386.8L418.6 387.4L416.8 387.3L415.8 386.6L414.8 386.3L413.7 386.9L413.1 388.1L412 388.9L410.8 390.1L409.2 390.3L408.8 389.4L409 387.8L407.8 385.3Z" fill="#fef0d9"/>
<path d="M398.9 394.9L397.3 392.9L396.5 391L396.1 388.5L395.6 386.6L394.9 382.5L395 379.4L394.7 378L393.9 376.9L392.7 374.8L391.6 371.6L391.1 370L389.3 367.4L389.2 365.4L390.4 364.9L391.7 364.5L393.2 364.6L394.5 365.7L394.9 365.6L404.1 365.4L405.7 366.7L411.2 367.1L415.4 366L417.2 365.4L418.7 365.6L419.6 366.2L420 366.6L419.6 366.4L418.3 367L417.6 367L416.1 368L415.3 366.9L411.8 367.8L410.1 367.9L409.7 377.2L407.5 377.3L407.2 384.9L406.8 394.6L404.7 395.9L403.5 396.1L402.2 395.6L401.2 395.4L400.9 394.3L400 393.6Z" fill="#fef0d9"/>
<path d="M435.9 390.1L435.3 392L434.8 394.2L434.1 395.4L432.5 396.7L432.1 397.1L431 398.4L430.3 399.7L428.9 401.6L426.2 404.3L424.5 405.9L422.7 407.1L420.3 408.1L419.2 408.2L418.9 408.9L417.6 408.6L416.4 409.1L414.1 408.5L412.8 408.9L411.9 408.7L409.5 409.8L407.6 410.2L406.2 411.2L405.2 411.2L404.4 410.3L403.6 410.2L402.8 409.1L402.6 409.4L402.4 408.7L402.5 407.2L401.9 405.4L402.6 405L402.7 403L401.4 400.5L400.3 398.3L398.9 394.9L400 393.6L400.9 394.3L401.2 395.4L402.2 395.6L403.5 396.1L404.7 395.9L406.8 394.6L407.2 384.9L407.8 385.3L409 387.8L408.8 389.4L409.2 390.3L410.8 390.1L412 388.9L413.1 388.1L413.7 386.9L414.8 386.3L415.8 386.6L416.8 387.3L418.6 387.4L420.1 386.8L420.4 386L420.8 384.8L422.1 384.6L422.8 383.6L423.6 381.8L425.7 379.9L429 377.9L429.9 378L431 378.4L431.8 378.1L433 378.4L433.8 382L434.3 383.9L433.8 386.8L433.9 387.7L432.8 387.3L432.1 387.5L431.9 388.2L431.2 389.2L431.2 390.1L432.4 391.5L433.7 391.2L434.3 390.1Z" fill="#fef0d9"/>
<path d="M433.9 387.7L434.2 388.9L434.3 390.1L433.7 391.2L432.4 391.5L431.2 390.1L431.2 389.2L431.9 388.2L432.1 387.5L432.8 387.3Z" fill="#fef0d9"/>
<path d="M476.1 352.8L476.7 353.9L477.1 355.6L477.3 358.8L477.9 360L477.6 361.3L477.1 362L476.4 360.5L475.9 361.3L476.2 363.2L476 364.3L475.3 364.9L475 367.1L473.9 370.2L472.5 373.8L470.7 378.7L469.6 382.4L468.3 385.4L466.4 386L464.4 387.1L463.1 386.5L461.4 385.5L460.9 384.1L461 381.8L460.3 379.7L460.2 377.9L460.8 376L461.8 375.5L461.9 374.7L463.1 372.7L463.4 371L463 369.8L462.7 368.1L462.6 365.7L463.5 364.2L463.9 362.6L465.1 362.5L466.4 361.9L467.2 361.5L468.3 361.4L469.6 360L471.6 358.3L472.4 357L472.1 355.9L473.1 356.2L474.4 354.4L474.5 352.8L475.3 351.7Z" fill="#ef6548"/>
<path d="M426.9 395.9L427.7 396.7L426.9 397.9L426.4 398.8L425.2 399.2L424.7 400.1L423.9 400.3L422.4 398.3L423.7 396.6L424.9 395.6L426 395.1Z" fill="#fef0d9"/>
</g>
</g>
</svg>
<div class="lg" id="l_nd" style="left:210px;letter-spacing:0.27px">No data</div>
<div class="lg" id="l0" style="left:253.8px">0</div>
<div class="lg" id="l1" style="left:312.2px">1</div>
<div class="lg" id="l3" style="left:370.7px">3</div>
<div class="lg" id="l10" style="left:429.5px">10</div>
<div class="lg" id="l30" style="left:487.9px">30</div>
<div class="lg" id="l50" style="left:546.3px">50</div>
<div class="lg" id="l100" style="left:604.8px">100</div>
<div id="src"><b>Data source:</b> World Health Organization (2024)</div>
<div id="lic">OurWorldinData.org/malaria | CC BY</div>
</body>
</html>
